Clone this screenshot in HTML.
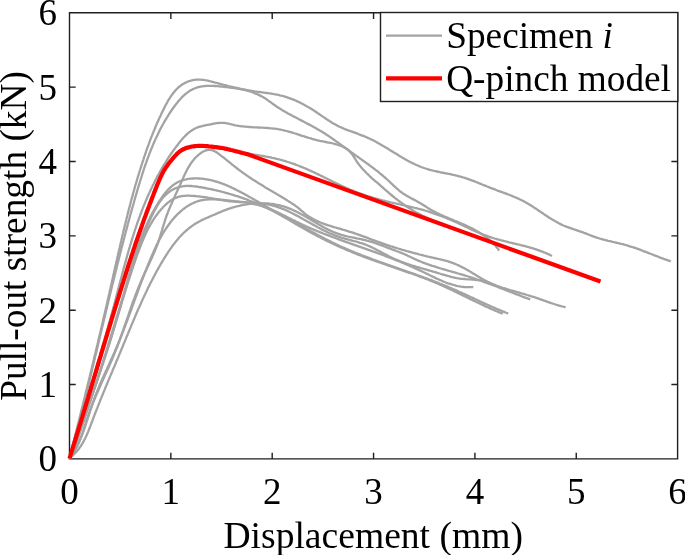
<!DOCTYPE html>
<html><head><meta charset="utf-8"><style>
html,body{margin:0;padding:0;background:#fff;}
body{width:685px;height:555px;overflow:hidden;font-family:"Liberation Serif",serif;}
svg{display:block;will-change:transform;}
</style></head><body>
<svg width="685" height="555" viewBox="0 0 685 555">
<rect width="685" height="555" fill="#fff"/>
<g fill="none" stroke="#1f1f1f" stroke-width="1.4">
<path d="M69.5 458.9H677.6V12.8H69.5Z"/>
<path d="M170.85 458.9V452.7M170.85 12.8V19M69.5 384.55H75.7M677.6 384.55H671.4M272.2 458.9V452.7M272.2 12.8V19M69.5 310.2H75.7M677.6 310.2H671.4M373.55 458.9V452.7M373.55 12.8V19M69.5 235.85H75.7M677.6 235.85H671.4M474.9 458.9V452.7M474.9 12.8V19M69.5 161.5H75.7M677.6 161.5H671.4M576.25 458.9V452.7M576.25 12.8V19M69.5 87.15H75.7M677.6 87.15H671.4"/>
</g>
<g fill="none" stroke="#a3a3a3" stroke-width="2.3" stroke-linejoin="round" stroke-linecap="butt"><path d="M69.4 458.5 L69.8 457.0 L70.1 455.6 L70.5 454.1 L70.9 452.7 L71.2 451.2 L71.6 449.7 L72.0 448.3 L72.3 446.8 L72.7 445.4 L73.1 443.9 L73.4 442.4 L73.8 441.0 L74.2 439.5 L74.5 438.1 L74.9 436.6 L75.3 435.1 L75.6 433.7 L76.0 432.2 L76.4 430.8 L76.7 429.3 L77.1 427.8 L77.5 426.4 L77.8 424.9 L78.2 423.5 L78.6 422.0 L78.9 420.5 L79.3 419.1 L79.6 417.6 L80.0 416.2 L80.4 414.7 L80.7 413.3 L81.1 411.8 L81.4 410.3 L81.8 408.9 L82.2 407.4 L82.5 406.0 L82.9 404.5 L83.2 403.0 L83.6 401.6 L84.0 400.1 L84.3 398.7 L84.7 397.2 L85.0 395.8 L85.4 394.3 L85.7 392.8 L86.1 391.4 L86.5 389.9 L86.8 388.5 L87.2 387.0 L87.5 385.5 L87.9 384.1 L88.2 382.6 L88.6 381.2 L89.0 379.7 L89.3 378.3 L89.7 376.8 L90.0 375.3 L90.4 373.9 L90.7 372.4 L91.1 371.0 L91.4 369.5 L91.8 368.0 L92.1 366.6 L92.5 365.1 L92.8 363.7 L93.2 362.2 L93.5 360.7 L93.9 359.3 L94.2 357.8 L94.6 356.4 L94.9 354.9 L95.3 353.5 L95.6 352.0 L96.0 350.5 L96.3 349.1 L96.7 347.6 L97.0 346.1 L97.4 344.7 L97.7 343.2 L98.1 341.8 L98.4 340.3 L98.7 338.8 L99.1 337.4 L99.4 335.9 L99.8 334.5 L100.1 333.0 L100.5 331.5 L100.8 330.1 L101.1 328.6 L101.5 327.2 L101.8 325.7 L102.2 324.2 L102.5 322.8 L102.9 321.3 L103.2 319.8 L103.5 318.4 L103.9 316.9 L104.2 315.4 L104.6 314.0 L104.9 312.5 L105.2 311.1 L105.6 309.6 L105.9 308.1 L106.2 306.7 L106.6 305.2 L106.9 303.7 L107.3 302.3 L107.6 300.8 L107.9 299.3 L108.3 297.9 L108.6 296.4 L108.9 294.9 L109.3 293.5 L109.6 292.0 L109.9 290.5 L110.3 289.1 L110.6 287.6 L110.9 286.1 L111.2 284.7 L111.6 283.2 L111.9 281.7 L112.2 280.3 L112.6 278.8 L112.9 277.3 L113.2 275.9 L113.6 274.4 L113.9 272.9 L114.2 271.4 L114.5 270.0 L114.9 268.5 L115.2 267.0 L115.5 265.6 L115.9 264.1 L116.2 262.6 L116.5 261.2 L116.9 259.7 L117.2 258.2 L117.5 256.8 L117.9 255.3 L118.2 253.8 L118.5 252.4 L118.9 250.9 L119.2 249.4 L119.6 248.0 L119.9 246.5 L120.2 245.0 L120.6 243.6 L120.9 242.1 L121.3 240.6 L121.6 239.2 L121.9 237.7 L122.3 236.2 L122.6 234.8 L123.0 233.3 L123.3 231.8 L123.7 230.4 L124.0 228.9 L124.4 227.4 L124.7 226.0 L125.1 224.5 L125.5 223.1 L125.8 221.6 L126.2 220.1 L126.5 218.7 L126.9 217.2 L127.3 215.8 L127.6 214.3 L128.0 212.9 L128.4 211.4 L128.7 209.9 L129.1 208.5 L129.5 207.0 L129.9 205.6 L130.3 204.1 L130.6 202.7 L131.0 201.2 L131.4 199.8 L131.8 198.3 L132.2 196.9 L132.6 195.4 L133.0 194.0 L133.4 192.5 L133.8 191.1 L134.2 189.7 L134.6 188.2 L135.0 186.8 L135.4 185.3 L135.8 183.9 L136.3 182.4 L136.7 181.0 L137.1 179.6 L137.5 178.1 L138.0 176.7 L138.4 175.3 L138.8 173.8 L139.3 172.4 L139.7 171.0 L140.2 169.5 L140.6 168.1 L141.1 166.7 L141.5 165.3 L142.0 163.8 L142.4 162.4 L142.9 161.0 L143.4 159.6 L143.8 158.2 L144.3 156.7 L144.8 155.3 L145.3 153.9 L145.8 152.5 L146.2 151.1 L146.7 149.7 L147.2 148.3 L147.7 146.9 L148.3 145.5 L148.8 144.0 L149.3 142.6 L149.8 141.2 L150.3 139.8 L150.9 138.4 L151.4 137.0 L152.0 135.6 L152.5 134.2 L153.1 132.9 L153.6 131.5 L154.2 130.1 L154.8 128.7 L155.4 127.3 L155.9 125.9 L156.5 124.5 L157.1 123.1 L157.7 121.7 L158.4 120.4 L159.0 119.0 L159.6 117.6 L160.3 116.2 L160.9 114.9 L161.5 113.5 L162.2 112.1 L162.9 110.7 L163.6 109.4 L164.2 108.0 L164.9 106.6 L165.6 105.3 L166.4 103.9 L167.1 102.6 L167.8 101.2 L168.6 99.9 L169.4 98.6 L170.2 97.4 L171.0 96.1 L171.9 94.9 L172.8 93.7 L173.7 92.5 L174.6 91.4 L175.6 90.3 L176.6 89.2 L177.6 88.2 L178.7 87.2 L179.8 86.3 L181.0 85.4 L182.2 84.5 L183.5 83.8 L184.8 83.0 L186.1 82.4 L187.4 81.8 L188.8 81.2 L190.3 80.8 L191.7 80.4 L193.1 80.1 L194.6 79.8 L196.1 79.7 L197.6 79.6 L199.0 79.6 L200.5 79.7 L202.0 79.8 L203.5 79.9 L205.0 80.2 L206.4 80.4 L207.9 80.7 L209.4 81.1 L210.8 81.4 L212.3 81.8 L213.7 82.2 L215.2 82.6 L216.7 82.9 L218.1 83.3 L219.6 83.7 L221.0 84.1 L222.5 84.5 L223.9 84.9 L225.4 85.2 L226.8 85.6 L228.3 86.0 L229.7 86.3 L231.2 86.7 L232.7 87.0 L234.1 87.4 L235.6 87.7 L237.1 88.0 L238.5 88.3 L240.0 88.7 L241.5 89.0 L242.9 89.3 L244.4 89.5 L245.9 89.8 L247.3 90.1 L248.8 90.4 L250.3 90.6 L251.8 90.9 L253.3 91.1 L254.7 91.4 L256.2 91.6 L257.7 91.8 L259.2 92.0 L260.7 92.2 L262.2 92.4 L263.7 92.6 L265.2 92.8 L266.6 93.0 L268.1 93.2 L269.6 93.4 L271.1 93.6 L272.6 93.8 L274.0 94.1 L275.5 94.3 L277.0 94.6 L278.4 94.9 L279.9 95.3 L281.3 95.6 L282.8 96.0 L284.2 96.4 L285.7 96.8 L287.1 97.3 L288.5 97.8 L289.9 98.3 L291.3 98.8 L292.7 99.3 L294.1 99.9 L295.5 100.5 L296.8 101.1 L298.2 101.8 L299.6 102.4 L300.9 103.1 L302.3 103.8 L303.6 104.5 L304.9 105.2 L306.2 105.9 L307.6 106.7 L308.9 107.4 L310.2 108.2 L311.5 109.0 L312.7 109.8 L314.0 110.6 L315.3 111.5 L316.5 112.3 L317.8 113.2 L319.1 114.0 L320.3 114.9 L321.6 115.7 L322.8 116.6 L324.0 117.4 L325.3 118.3 L326.5 119.1 L327.8 120.0 L329.1 120.8 L330.3 121.6 L331.6 122.4 L332.9 123.2 L334.2 123.9 L335.5 124.6 L336.8 125.4 L338.1 126.0 L339.4 126.7 L340.8 127.3 L342.1 127.9 L343.5 128.5 L344.9 129.1 L346.3 129.6 L347.6 130.2 L349.0 130.7 L350.5 131.2 L351.9 131.7 L353.3 132.2 L354.7 132.7 L356.1 133.2 L357.5 133.7 L358.9 134.3 L360.3 134.8 L361.7 135.3 L363.1 135.8 L364.5 136.4 L365.9 137.0 L367.3 137.6 L368.6 138.2 L370.0 138.8 L371.3 139.5 L372.7 140.1 L374.0 140.8 L375.4 141.5 L376.7 142.2 L378.0 143.0 L379.3 143.7 L380.6 144.4 L381.9 145.2 L383.2 146.0 L384.5 146.7 L385.8 147.5 L387.1 148.3 L388.4 149.1 L389.7 149.9 L391.0 150.7 L392.3 151.5 L393.5 152.3 L394.8 153.1 L396.1 153.8 L397.4 154.6 L398.7 155.4 L400.0 156.2 L401.3 157.0 L402.6 157.7 L403.9 158.5 L405.2 159.2 L406.5 160.0 L407.8 160.7 L409.1 161.4 L410.4 162.1 L411.8 162.8 L413.1 163.4 L414.4 164.1 L415.8 164.7 L417.1 165.3 L418.5 165.9 L419.9 166.5 L421.2 167.0 L422.6 167.5 L424.0 168.0 L425.4 168.5 L426.9 168.9 L428.3 169.4 L429.7 169.8 L431.2 170.2 L432.6 170.5 L434.1 170.9 L435.5 171.2 L437.0 171.5 L438.5 171.8 L439.9 172.2 L441.4 172.5 L442.9 172.8 L444.4 173.0 L445.9 173.3 L447.3 173.6 L448.8 173.9 L450.3 174.2 L451.8 174.5 L453.2 174.9 L454.7 175.2 L456.2 175.5 L457.6 175.9 L459.1 176.3 L460.5 176.7 L462.0 177.1 L463.4 177.5 L464.8 177.9 L466.2 178.4 L467.6 178.9 L469.0 179.4 L470.4 179.9 L471.8 180.4 L473.2 180.9 L474.6 181.4 L476.0 182.0 L477.4 182.5 L478.8 183.1 L480.1 183.6 L481.5 184.2 L482.9 184.8 L484.3 185.3 L485.7 185.9 L487.1 186.5 L488.5 187.0 L489.9 187.6 L491.3 188.1 L492.7 188.7 L494.1 189.2 L495.5 189.7 L496.9 190.3 L498.3 190.8 L499.7 191.3 L501.2 191.8 L502.6 192.4 L504.0 192.9 L505.4 193.4 L506.8 193.9 L508.2 194.5 L509.7 195.0 L511.1 195.5 L512.4 196.1 L513.8 196.7 L515.2 197.3 L516.6 197.9 L518.0 198.5 L519.3 199.1 L520.6 199.8 L522.0 200.4 L523.3 201.1 L524.6 201.8 L525.9 202.5 L527.2 203.3 L528.5 204.0 L529.8 204.8 L531.0 205.6 L532.3 206.3 L533.5 207.2 L534.8 208.0 L536.1 208.8 L537.3 209.6 L538.5 210.5 L539.8 211.3 L541.0 212.1 L542.3 213.0 L543.5 213.8 L544.7 214.7 L546.0 215.5 L547.2 216.3 L548.5 217.2 L549.8 218.0 L551.0 218.8 L552.3 219.6 L553.6 220.3 L554.9 221.1 L556.2 221.8 L557.5 222.5 L558.8 223.2 L560.1 223.9 L561.5 224.6 L562.8 225.2 L564.2 225.8 L565.6 226.3 L567.0 226.9 L568.4 227.4 L569.8 227.9 L571.2 228.4 L572.7 228.9 L574.1 229.4 L575.5 229.8 L577.0 230.3 L578.4 230.8 L579.8 231.3 L581.3 231.8 L582.7 232.3 L584.1 232.9 L585.5 233.4 L586.9 233.9 L588.3 234.5 L589.7 235.0 L591.1 235.6 L592.5 236.1 L593.9 236.6 L595.3 237.1 L596.7 237.6 L598.1 238.0 L599.5 238.5 L601.0 238.9 L602.4 239.3 L603.8 239.7 L605.3 240.0 L606.7 240.4 L608.2 240.8 L609.7 241.1 L611.1 241.4 L612.6 241.8 L614.0 242.1 L615.5 242.5 L617.0 242.8 L618.4 243.2 L619.9 243.5 L621.3 243.9 L622.8 244.2 L624.2 244.6 L625.7 245.0 L627.1 245.4 L628.5 245.9 L630.0 246.3 L631.4 246.8 L632.8 247.2 L634.2 247.7 L635.7 248.2 L637.1 248.7 L638.5 249.2 L639.9 249.7 L641.3 250.2 L642.7 250.8 L644.1 251.3 L645.5 251.8 L646.9 252.4 L648.3 252.9 L649.7 253.5 L651.1 254.0 L652.5 254.5 L653.9 255.1 L655.3 255.6 L656.7 256.2 L658.1 256.7 L659.5 257.3 L660.9 257.8 L662.3 258.3 L663.7 258.9 L665.1 259.4 L666.6 259.9 L668.0 260.4 L669.4 260.9 L670.8 261.4"/><path d="M69.4 458.5 L69.8 457.1 L70.2 455.6 L70.6 454.1 L71.0 452.7 L71.4 451.2 L71.8 449.8 L72.2 448.3 L72.6 446.9 L73.0 445.4 L73.4 444.0 L73.7 442.5 L74.1 441.0 L74.5 439.6 L74.9 438.1 L75.3 436.7 L75.7 435.2 L76.1 433.8 L76.5 432.3 L76.8 430.8 L77.2 429.4 L77.6 427.9 L78.0 426.5 L78.4 425.0 L78.7 423.5 L79.1 422.1 L79.5 420.6 L79.9 419.2 L80.2 417.7 L80.6 416.2 L81.0 414.8 L81.3 413.3 L81.7 411.9 L82.1 410.4 L82.4 408.9 L82.8 407.5 L83.2 406.0 L83.5 404.6 L83.9 403.1 L84.3 401.6 L84.6 400.2 L85.0 398.7 L85.4 397.3 L85.7 395.8 L86.1 394.3 L86.4 392.9 L86.8 391.4 L87.2 390.0 L87.5 388.5 L87.9 387.0 L88.2 385.6 L88.6 384.1 L88.9 382.7 L89.3 381.2 L89.7 379.7 L90.0 378.3 L90.4 376.8 L90.7 375.3 L91.1 373.9 L91.4 372.4 L91.8 371.0 L92.1 369.5 L92.5 368.0 L92.8 366.6 L93.2 365.1 L93.5 363.7 L93.9 362.2 L94.2 360.7 L94.6 359.3 L94.9 357.8 L95.3 356.3 L95.6 354.9 L96.0 353.4 L96.3 352.0 L96.7 350.5 L97.0 349.0 L97.4 347.6 L97.7 346.1 L98.1 344.6 L98.4 343.2 L98.8 341.7 L99.1 340.3 L99.5 338.8 L99.8 337.3 L100.1 335.9 L100.5 334.4 L100.8 333.0 L101.2 331.5 L101.5 330.0 L101.9 328.6 L102.2 327.1 L102.6 325.6 L102.9 324.2 L103.3 322.7 L103.6 321.3 L104.0 319.8 L104.3 318.3 L104.7 316.9 L105.0 315.4 L105.4 313.9 L105.7 312.5 L106.1 311.0 L106.4 309.6 L106.8 308.1 L107.1 306.6 L107.5 305.2 L107.8 303.7 L108.2 302.3 L108.5 300.8 L108.9 299.3 L109.2 297.9 L109.6 296.4 L109.9 295.0 L110.3 293.5 L110.6 292.0 L111.0 290.6 L111.3 289.1 L111.7 287.7 L112.0 286.2 L112.4 284.7 L112.8 283.3 L113.1 281.8 L113.5 280.4 L113.8 278.9 L114.2 277.4 L114.6 276.0 L114.9 274.5 L115.3 273.1 L115.6 271.6 L116.0 270.1 L116.4 268.7 L116.7 267.2 L117.1 265.8 L117.5 264.3 L117.8 262.8 L118.2 261.4 L118.6 259.9 L118.9 258.5 L119.3 257.0 L119.7 255.6 L120.0 254.1 L120.4 252.6 L120.8 251.2 L121.1 249.7 L121.5 248.3 L121.9 246.8 L122.3 245.4 L122.6 243.9 L123.0 242.4 L123.4 241.0 L123.8 239.5 L124.2 238.1 L124.5 236.6 L124.9 235.2 L125.3 233.7 L125.7 232.2 L126.1 230.8 L126.5 229.3 L126.9 227.9 L127.3 226.4 L127.6 225.0 L128.0 223.5 L128.4 222.1 L128.8 220.6 L129.2 219.2 L129.6 217.7 L130.0 216.3 L130.4 214.8 L130.8 213.3 L131.2 211.9 L131.6 210.4 L132.0 209.0 L132.4 207.5 L132.8 206.1 L133.3 204.6 L133.7 203.2 L134.1 201.7 L134.5 200.3 L134.9 198.8 L135.3 197.4 L135.7 195.9 L136.2 194.5 L136.6 193.0 L137.0 191.6 L137.4 190.1 L137.8 188.7 L138.3 187.2 L138.7 185.8 L139.1 184.3 L139.6 182.9 L140.0 181.5 L140.5 180.0 L140.9 178.6 L141.4 177.1 L141.8 175.7 L142.3 174.2 L142.7 172.8 L143.2 171.4 L143.7 169.9 L144.1 168.5 L144.6 167.1 L145.1 165.7 L145.6 164.2 L146.1 162.8 L146.6 161.4 L147.1 160.0 L147.6 158.6 L148.1 157.2 L148.7 155.7 L149.2 154.3 L149.7 152.9 L150.3 151.5 L150.8 150.1 L151.4 148.7 L152.0 147.4 L152.5 146.0 L153.1 144.6 L153.7 143.2 L154.3 141.8 L154.9 140.5 L155.5 139.1 L156.2 137.7 L156.8 136.4 L157.5 135.0 L158.1 133.7 L158.8 132.3 L159.4 131.0 L160.1 129.6 L160.8 128.3 L161.5 127.0 L162.2 125.7 L163.0 124.3 L163.7 123.0 L164.4 121.7 L165.2 120.4 L166.0 119.1 L166.7 117.8 L167.5 116.6 L168.3 115.3 L169.1 114.0 L170.0 112.7 L170.8 111.5 L171.7 110.2 L172.5 109.0 L173.4 107.7 L174.3 106.5 L175.2 105.3 L176.1 104.1 L177.1 102.9 L178.0 101.7 L179.0 100.5 L180.0 99.4 L181.0 98.3 L182.0 97.2 L183.1 96.2 L184.2 95.2 L185.3 94.2 L186.4 93.3 L187.6 92.4 L188.7 91.6 L190.0 90.8 L191.2 90.1 L192.4 89.4 L193.7 88.8 L195.1 88.2 L196.4 87.7 L197.8 87.3 L199.2 86.9 L200.7 86.6 L202.2 86.3 L203.7 86.1 L205.2 86.0 L206.7 85.9 L208.3 85.8 L209.9 85.8 L211.5 85.9 L213.1 85.9 L214.6 86.0 L216.2 86.1 L217.8 86.2 L219.4 86.4 L221.0 86.5 L222.6 86.7 L224.1 86.9 L225.7 87.1 L227.2 87.2 L228.7 87.4 L230.2 87.6 L231.7 87.8 L233.1 87.9 L234.6 88.1 L236.0 88.3 L237.4 88.6 L238.9 88.8 L240.3 89.1 L241.7 89.3 L243.1 89.6 L244.5 90.0 L245.9 90.3 L247.4 90.7 L248.8 91.1 L250.2 91.5 L251.7 92.0 L253.1 92.5 L254.5 93.1 L255.9 93.7 L257.3 94.3 L258.7 94.9 L260.1 95.6 L261.5 96.3 L262.8 97.0 L264.1 97.8 L265.4 98.6 L266.7 99.4 L267.9 100.3 L269.1 101.2 L270.3 102.0 L271.5 102.9 L272.7 103.8 L274.0 104.7 L275.2 105.5 L276.4 106.4 L277.7 107.2 L278.9 108.0 L280.2 108.8 L281.4 109.6 L282.7 110.4 L284.0 111.1 L285.3 111.9 L286.6 112.6 L287.9 113.4 L289.2 114.1 L290.6 114.8 L291.9 115.5 L293.2 116.2 L294.6 116.9 L295.9 117.6 L297.2 118.3 L298.6 119.0 L299.9 119.7 L301.2 120.4 L302.6 121.1 L303.9 121.8 L305.3 122.5 L306.6 123.2 L307.9 123.9 L309.3 124.6 L310.6 125.3 L311.9 126.0 L313.3 126.8 L314.6 127.5 L315.9 128.2 L317.2 129.0 L318.5 129.7 L319.8 130.5 L321.1 131.2 L322.4 132.0 L323.6 132.8 L324.9 133.6 L326.2 134.4 L327.4 135.3 L328.7 136.1 L329.9 136.9 L331.1 137.8 L332.4 138.6 L333.6 139.5 L334.8 140.3 L336.0 141.2 L337.3 142.1 L338.5 142.9 L339.7 143.8 L340.9 144.7 L342.1 145.6 L343.3 146.5 L344.5 147.3 L345.8 148.2 L347.0 149.1 L348.2 150.0 L349.4 150.9 L350.6 151.8 L351.8 152.6 L353.1 153.5 L354.3 154.4 L355.5 155.3 L356.7 156.1 L358.0 157.0 L359.2 157.9 L360.4 158.8 L361.6 159.6 L362.9 160.5 L364.1 161.4 L365.3 162.2 L366.5 163.1 L367.8 164.0 L369.0 164.9 L370.2 165.8 L371.4 166.7 L372.6 167.6 L373.8 168.5 L375.0 169.4 L376.2 170.3 L377.4 171.2 L378.6 172.2 L379.7 173.1 L380.9 174.1 L382.0 175.0 L383.2 176.0 L384.3 177.0 L385.5 178.0 L386.6 179.0 L387.7 180.0 L388.8 181.0 L389.9 182.0 L391.0 183.1 L392.1 184.1 L393.1 185.2 L394.2 186.2 L395.3 187.2 L396.4 188.2 L397.6 189.2 L398.7 190.2 L399.8 191.1 L401.0 192.0 L402.2 192.9 L403.4 193.7 L404.7 194.5 L405.9 195.3 L407.2 196.1 L408.5 196.8 L409.8 197.5 L411.1 198.2 L412.4 198.9 L413.8 199.6 L415.1 200.3 L416.4 201.0 L417.7 201.7 L419.0 202.4 L420.3 203.2 L421.6 203.9 L422.9 204.7 L424.1 205.5 L425.3 206.3 L426.6 207.1 L427.8 207.9 L429.1 208.7 L430.4 209.5 L431.7 210.2 L433.0 210.9 L434.3 211.6 L435.6 212.3 L436.9 213.0 L438.3 213.6 L439.6 214.3 L441.0 214.9 L442.4 215.5 L443.7 216.1 L445.1 216.7 L446.5 217.3 L447.9 217.9 L449.3 218.5 L450.7 219.0 L452.1 219.6 L453.5 220.2 L454.9 220.8 L456.3 221.3 L457.7 221.9 L459.1 222.5 L460.5 223.1 L461.8 223.7 L463.2 224.3 L464.6 224.9 L466.0 225.5 L467.4 226.2 L468.7 226.8 L470.1 227.5 L471.4 228.1 L472.8 228.8 L474.1 229.5 L475.4 230.2 L476.7 230.9 L478.0 231.7 L479.3 232.5 L480.5 233.2 L481.8 234.0 L483.0 234.9 L484.2 235.7 L485.4 236.6 L486.6 237.5 L487.8 238.4 L488.9 239.4 L490.1 240.4 L491.2 241.4 L492.3 242.4 L493.3 243.5 L494.4 244.6 L495.4 245.7 L496.4 246.9 L497.3 248.1 L498.3 249.3 L499.2 250.6"/><path d="M69.5 458.5 L69.9 457.0 L70.3 455.6 L70.7 454.1 L71.1 452.7 L71.5 451.3 L71.9 449.8 L72.3 448.4 L72.7 446.9 L73.1 445.5 L73.6 444.0 L74.0 442.6 L74.4 441.1 L74.8 439.7 L75.2 438.2 L75.6 436.8 L76.1 435.4 L76.5 433.9 L76.9 432.5 L77.3 431.0 L77.7 429.6 L78.2 428.1 L78.6 426.7 L79.0 425.2 L79.4 423.8 L79.9 422.3 L80.3 420.9 L80.7 419.5 L81.2 418.0 L81.6 416.6 L82.0 415.1 L82.4 413.7 L82.9 412.2 L83.3 410.8 L83.7 409.4 L84.2 407.9 L84.6 406.5 L85.0 405.0 L85.5 403.6 L85.9 402.1 L86.3 400.7 L86.8 399.2 L87.2 397.8 L87.6 396.4 L88.1 394.9 L88.5 393.5 L88.9 392.0 L89.4 390.6 L89.8 389.1 L90.2 387.7 L90.7 386.3 L91.1 384.8 L91.6 383.4 L92.0 381.9 L92.4 380.5 L92.9 379.0 L93.3 377.6 L93.7 376.1 L94.2 374.7 L94.6 373.3 L95.0 371.8 L95.5 370.4 L95.9 368.9 L96.3 367.5 L96.7 366.0 L97.2 364.6 L97.6 363.1 L98.0 361.7 L98.5 360.2 L98.9 358.8 L99.3 357.4 L99.8 355.9 L100.2 354.5 L100.6 353.0 L101.0 351.6 L101.5 350.1 L101.9 348.7 L102.3 347.2 L102.7 345.8 L103.1 344.3 L103.6 342.9 L104.0 341.4 L104.4 340.0 L104.8 338.5 L105.2 337.1 L105.6 335.6 L106.1 334.2 L106.5 332.7 L106.9 331.3 L107.3 329.9 L107.7 328.4 L108.1 327.0 L108.5 325.5 L108.9 324.1 L109.3 322.6 L109.7 321.1 L110.1 319.7 L110.5 318.2 L110.9 316.8 L111.3 315.3 L111.7 313.9 L112.1 312.4 L112.5 311.0 L112.9 309.5 L113.3 308.1 L113.7 306.6 L114.1 305.2 L114.4 303.7 L114.8 302.3 L115.2 300.8 L115.6 299.4 L116.0 297.9 L116.4 296.4 L116.7 295.0 L117.1 293.5 L117.5 292.1 L117.9 290.6 L118.2 289.2 L118.6 287.7 L119.0 286.3 L119.4 284.8 L119.8 283.4 L120.1 281.9 L120.5 280.5 L120.9 279.0 L121.3 277.5 L121.7 276.1 L122.0 274.6 L122.4 273.2 L122.8 271.7 L123.2 270.3 L123.6 268.8 L124.0 267.4 L124.4 265.9 L124.8 264.5 L125.2 263.0 L125.6 261.6 L126.0 260.1 L126.4 258.7 L126.8 257.2 L127.2 255.8 L127.6 254.3 L128.0 252.9 L128.4 251.5 L128.8 250.0 L129.2 248.6 L129.7 247.1 L130.1 245.7 L130.5 244.3 L131.0 242.8 L131.4 241.4 L131.8 239.9 L132.3 238.5 L132.7 237.1 L133.2 235.6 L133.6 234.2 L134.1 232.8 L134.6 231.3 L135.0 229.9 L135.5 228.5 L136.0 227.0 L136.5 225.6 L137.0 224.2 L137.4 222.8 L137.9 221.3 L138.5 219.9 L139.0 218.5 L139.5 217.1 L140.0 215.7 L140.5 214.3 L141.1 212.8 L141.6 211.4 L142.1 210.0 L142.7 208.6 L143.2 207.2 L143.8 205.8 L144.4 204.4 L145.0 203.0 L145.5 201.6 L146.1 200.2 L146.7 198.8 L147.3 197.4 L147.9 196.0 L148.5 194.6 L149.2 193.3 L149.8 191.9 L150.4 190.5 L151.1 189.1 L151.7 187.8 L152.4 186.4 L153.0 185.0 L153.7 183.7 L154.4 182.3 L155.0 181.0 L155.7 179.6 L156.4 178.3 L157.1 176.9 L157.8 175.6 L158.6 174.3 L159.3 173.0 L160.0 171.6 L160.8 170.3 L161.5 169.0 L162.3 167.7 L163.0 166.4 L163.8 165.1 L164.6 163.8 L165.4 162.6 L166.2 161.3 L167.0 160.0 L167.8 158.7 L168.6 157.5 L169.4 156.2 L170.3 155.0 L171.1 153.7 L172.0 152.5 L172.8 151.3 L173.7 150.1 L174.6 148.9 L175.5 147.6 L176.4 146.4 L177.3 145.3 L178.2 144.1 L179.1 142.9 L180.0 141.7 L181.0 140.6 L181.9 139.4 L182.9 138.3 L183.9 137.2 L184.9 136.2 L186.0 135.1 L187.0 134.1 L188.1 133.1 L189.3 132.2 L190.5 131.3 L191.7 130.5 L192.9 129.7 L194.2 129.0 L195.5 128.3 L196.9 127.7 L198.4 127.2 L199.8 126.7 L201.3 126.3 L202.9 125.9 L204.5 125.5 L206.0 125.2 L207.6 124.9 L209.2 124.6 L210.8 124.3 L212.3 124.0 L213.8 123.7 L215.4 123.4 L216.8 123.2 L218.3 123.0 L219.8 122.9 L221.3 122.8 L222.7 122.8 L224.2 122.9 L225.6 123.1 L227.0 123.4 L228.5 123.7 L229.9 124.0 L231.3 124.4 L232.8 124.7 L234.2 125.1 L235.7 125.4 L237.2 125.6 L238.7 125.9 L240.1 126.1 L241.6 126.3 L243.1 126.4 L244.6 126.6 L246.1 126.7 L247.6 126.9 L249.2 127.0 L250.7 127.1 L252.2 127.2 L253.7 127.3 L255.2 127.3 L256.8 127.4 L258.3 127.5 L259.8 127.6 L261.3 127.6 L262.8 127.7 L264.4 127.8 L265.9 127.9 L267.4 128.0 L268.9 128.1 L270.4 128.3 L271.9 128.4 L273.4 128.6 L274.9 128.7 L276.4 128.9 L277.8 129.2 L279.3 129.4 L280.8 129.7 L282.2 130.0 L283.7 130.3 L285.1 130.7 L286.5 131.0 L288.0 131.4 L289.4 131.8 L290.8 132.2 L292.2 132.6 L293.6 133.0 L295.1 133.5 L296.5 133.9 L297.9 134.4 L299.3 134.8 L300.7 135.3 L302.2 135.8 L303.6 136.2 L305.0 136.7 L306.4 137.1 L307.9 137.6 L309.3 138.0 L310.8 138.4 L312.2 138.9 L313.7 139.3 L315.1 139.7 L316.6 140.1 L318.1 140.4 L319.6 140.8 L321.1 141.1 L322.6 141.4 L324.1 141.7 L325.6 142.0 L327.1 142.3 L328.6 142.6 L330.2 142.9 L331.7 143.2 L333.1 143.5 L334.6 143.9 L336.1 144.3 L337.5 144.7 L338.9 145.2 L340.3 145.7 L341.7 146.2 L343.0 146.8 L344.3 147.5 L345.6 148.2 L346.8 149.0 L348.0 149.9 L349.1 150.9 L350.1 151.9 L351.1 153.0 L352.0 154.1 L352.9 155.4 L353.7 156.6 L354.5 157.9 L355.3 159.2 L356.1 160.5 L356.9 161.8 L357.8 163.0 L358.7 164.2 L359.6 165.4 L360.6 166.6 L361.5 167.7 L362.5 168.8 L363.5 169.9 L364.6 171.0 L365.6 172.1 L366.7 173.2 L367.7 174.2 L368.8 175.2 L369.9 176.3 L371.0 177.3 L372.1 178.3 L373.2 179.3 L374.4 180.3 L375.5 181.3 L376.6 182.2 L377.8 183.2 L378.9 184.2 L380.0 185.2 L381.1 186.2 L382.3 187.2 L383.4 188.2 L384.5 189.2 L385.7 190.2 L386.8 191.2 L388.0 192.1 L389.1 193.1 L390.3 194.1 L391.4 195.0 L392.6 196.0 L393.7 196.9 L394.9 197.9 L396.1 198.8 L397.3 199.7 L398.4 200.6 L399.6 201.5 L400.8 202.4 L402.1 203.3 L403.3 204.2 L404.5 205.0 L405.7 205.9 L407.0 206.7 L408.2 207.5 L409.5 208.3 L410.8 209.1 L412.1 209.9 L413.3 210.7 L414.6 211.4 L416.0 212.2 L417.3 212.9 L418.6 213.6 L419.9 214.3 L421.3 215.0 L422.6 215.7 L424.0 216.3 L425.3 217.0 L426.7 217.6 L428.1 218.2 L429.5 218.8 L430.8 219.4 L432.2 220.0 L433.6 220.6 L435.0 221.1 L436.5 221.6 L437.9 222.1 L439.3 222.6 L440.7 223.1 L442.1 223.6 L443.6 224.1 L445.0 224.5"/><path d="M69.5 458.5 L69.9 457.0 L70.4 455.6 L70.8 454.2 L71.3 452.8 L71.8 451.3 L72.2 449.9 L72.7 448.5 L73.1 447.0 L73.5 445.6 L74.0 444.2 L74.4 442.7 L74.9 441.3 L75.3 439.9 L75.8 438.4 L76.2 437.0 L76.7 435.6 L77.1 434.1 L77.6 432.7 L78.0 431.3 L78.4 429.8 L78.9 428.4 L79.3 426.9 L79.8 425.5 L80.2 424.1 L80.6 422.6 L81.1 421.2 L81.5 419.8 L81.9 418.3 L82.4 416.9 L82.8 415.4 L83.3 414.0 L83.7 412.6 L84.1 411.1 L84.6 409.7 L85.0 408.2 L85.4 406.8 L85.9 405.3 L86.3 403.9 L86.7 402.5 L87.2 401.0 L87.6 399.6 L88.0 398.1 L88.5 396.7 L88.9 395.3 L89.3 393.8 L89.8 392.4 L90.2 390.9 L90.6 389.5 L91.1 388.0 L91.5 386.6 L91.9 385.1 L92.3 383.7 L92.8 382.3 L93.2 380.8 L93.6 379.4 L94.1 377.9 L94.5 376.5 L94.9 375.0 L95.4 373.6 L95.8 372.1 L96.2 370.7 L96.7 369.2 L97.1 367.8 L97.5 366.4 L97.9 364.9 L98.4 363.5 L98.8 362.0 L99.2 360.6 L99.7 359.1 L100.1 357.7 L100.5 356.2 L101.0 354.8 L101.4 353.3 L101.8 351.9 L102.2 350.5 L102.7 349.0 L103.1 347.6 L103.5 346.1 L104.0 344.7 L104.4 343.2 L104.8 341.8 L105.3 340.3 L105.7 338.9 L106.1 337.5 L106.6 336.0 L107.0 334.6 L107.4 333.1 L107.9 331.7 L108.3 330.2 L108.7 328.8 L109.2 327.3 L109.6 325.9 L110.1 324.5 L110.5 323.0 L110.9 321.6 L111.4 320.1 L111.8 318.7 L112.2 317.2 L112.7 315.8 L113.1 314.4 L113.6 312.9 L114.0 311.5 L114.4 310.0 L114.9 308.6 L115.3 307.2 L115.8 305.7 L116.2 304.3 L116.7 302.8 L117.1 301.4 L117.6 300.0 L118.0 298.5 L118.4 297.1 L118.9 295.6 L119.3 294.2 L119.8 292.8 L120.2 291.3 L120.7 289.9 L121.1 288.5 L121.6 287.0 L122.0 285.6 L122.5 284.2 L123.0 282.7 L123.4 281.3 L123.9 279.9 L124.3 278.4 L124.8 277.0 L125.2 275.6 L125.7 274.1 L126.2 272.7 L126.6 271.3 L127.1 269.8 L127.5 268.4 L128.0 267.0 L128.5 265.5 L128.9 264.1 L129.4 262.7 L129.9 261.3 L130.3 259.8 L130.8 258.4 L131.3 257.0 L131.8 255.6 L132.2 254.1 L132.7 252.7 L133.2 251.3 L133.6 249.9 L134.1 248.4 L134.6 247.0 L135.1 245.6 L135.6 244.2 L136.0 242.8 L136.5 241.3 L137.0 239.9 L137.5 238.5 L138.0 237.1 L138.5 235.7 L139.0 234.2 L139.5 232.8 L139.9 231.4 L140.4 230.0 L140.9 228.6 L141.4 227.2 L141.9 225.8 L142.4 224.4 L142.9 222.9 L143.4 221.5 L143.9 220.1 L144.4 218.7 L144.9 217.3 L145.4 215.9 L145.9 214.5 L146.5 213.1 L147.0 211.7 L147.5 210.3 L148.0 208.9 L148.5 207.4 L149.0 206.0 L149.6 204.6 L150.1 203.2 L150.6 201.8 L151.1 200.4 L151.7 199.0 L152.2 197.5 L152.7 196.1 L153.3 194.7 L153.8 193.3 L154.4 191.8 L154.9 190.4 L155.5 189.0 L156.0 187.6 L156.6 186.1 L157.2 184.7 L157.7 183.3 L158.3 181.8 L158.9 180.4 L159.6 179.0 L160.2 177.6 L160.8 176.2 L161.5 174.8 L162.2 173.5 L162.9 172.1 L163.6 170.8 L164.4 169.5 L165.1 168.2 L165.9 166.9 L166.8 165.6 L167.6 164.4 L168.5 163.2 L169.5 162.0 L170.4 160.8 L171.4 159.7 L172.4 158.6 L173.5 157.6 L174.5 156.5 L175.6 155.5 L176.8 154.6 L177.9 153.7 L179.1 152.8 L180.3 152.0 L181.5 151.2 L182.8 150.5 L184.1 149.8 L185.4 149.2 L186.7 148.6 L188.0 148.1 L189.4 147.6 L190.8 147.2 L192.2 146.8 L193.6 146.5 L195.1 146.3 L196.5 146.1 L198.0 145.9 L199.5 145.8 L201.0 145.8 L202.5 145.8 L204.0 145.8 L205.5 145.9 L207.0 146.0 L208.5 146.1 L210.0 146.3 L211.6 146.5 L213.1 146.7 L214.6 146.9 L216.1 147.2 L217.6 147.4 L219.1 147.7 L220.6 148.0 L222.1 148.3 L223.6 148.7 L225.0 149.0 L226.5 149.3 L228.0 149.7 L229.5 150.0 L231.0 150.4 L232.5 150.7 L233.9 151.0 L235.4 151.4 L236.9 151.7 L238.4 152.0 L239.9 152.3 L241.3 152.6 L242.8 152.8 L244.3 153.1 L245.8 153.3 L247.2 153.6 L248.7 153.8 L250.2 154.0 L251.7 154.2 L253.1 154.5 L254.6 154.7 L256.1 154.9 L257.5 155.1 L259.0 155.3 L260.5 155.6 L261.9 155.8 L263.4 156.0 L264.9 156.3 L266.3 156.6 L267.8 156.8 L269.2 157.1 L270.7 157.4 L272.2 157.8 L273.6 158.1 L275.1 158.4 L276.5 158.8 L278.0 159.1 L279.4 159.5 L280.8 159.9 L282.3 160.3 L283.7 160.7 L285.2 161.1 L286.6 161.6 L288.0 162.0 L289.5 162.5 L290.9 163.0 L292.3 163.4 L293.7 163.9 L295.1 164.4 L296.5 165.0 L297.9 165.5 L299.3 166.0 L300.7 166.6 L302.1 167.1 L303.5 167.7 L304.9 168.3 L306.3 168.9 L307.7 169.5 L309.0 170.1 L310.4 170.7 L311.8 171.4 L313.2 172.0 L314.5 172.6 L315.9 173.3 L317.2 173.9 L318.6 174.6 L320.0 175.3 L321.3 175.9 L322.7 176.6 L324.0 177.3 L325.4 177.9 L326.7 178.6 L328.1 179.3 L329.5 179.9 L330.8 180.6 L332.2 181.3 L333.5 182.0 L334.9 182.6 L336.2 183.3 L337.6 183.9 L339.0 184.6 L340.3 185.2 L341.7 185.9 L343.1 186.5 L344.4 187.1 L345.8 187.8 L347.2 188.4 L348.6 189.0 L349.9 189.6 L351.3 190.2 L352.7 190.7 L354.1 191.3 L355.5 191.8 L356.9 192.4 L358.3 192.9 L359.7 193.4 L361.1 193.9 L362.5 194.4 L363.9 194.9 L365.4 195.4 L366.8 195.8 L368.2 196.3 L369.7 196.7 L371.1 197.2 L372.5 197.6 L374.0 198.0 L375.4 198.4 L376.9 198.8 L378.3 199.2 L379.8 199.6 L381.2 200.0 L382.7 200.4 L384.1 200.7 L385.6 201.1 L387.0 201.5 L388.5 201.8 L390.0 202.2 L391.4 202.5 L392.9 202.8 L394.4 203.2 L395.8 203.5 L397.3 203.8 L398.8 204.2 L400.2 204.5 L401.7 204.8 L403.2 205.2 L404.6 205.5 L406.1 205.8 L407.6 206.1 L409.0 206.5 L410.5 206.8 L412.0 207.2 L413.4 207.5 L414.9 207.9 L416.3 208.2 L417.8 208.6 L419.2 208.9 L420.7 209.3 L422.1 209.7 L423.6 210.1 L425.0 210.5 L426.5 211.0 L427.9 211.4 L429.3 211.8 L430.8 212.3 L432.2 212.8 L433.6 213.3 L435.0 213.8 L436.4 214.3 L437.9 214.8 L439.3 215.3 L440.7 215.8 L442.1 216.4 L443.5 216.9 L444.9 217.5 L446.3 218.0 L447.6 218.6 L449.0 219.2 L450.4 219.8 L451.8 220.4 L453.2 221.0 L454.6 221.6 L455.9 222.2 L457.3 222.8 L458.7 223.5 L460.0 224.1 L461.4 224.8 L462.8 225.4 L464.1 226.0 L465.5 226.7 L466.8 227.3 L468.2 228.0 L469.6 228.6 L470.9 229.3 L472.3 229.9 L473.6 230.5 L475.0 231.1 L476.4 231.7 L477.8 232.3 L479.1 232.9 L480.5 233.5 L481.9 234.1 L483.3 234.6 L484.7 235.2 L486.1 235.7 L487.5 236.2 L488.9 236.7 L490.3 237.1 L491.7 237.6 L493.2 238.0 L494.6 238.5 L496.0 238.9 L497.5 239.3 L498.9 239.7 L500.4 240.1 L501.8 240.4 L503.3 240.8 L504.7 241.2 L506.2 241.5 L507.6 241.9 L509.1 242.3 L510.5 242.6 L512.0 243.0 L513.5 243.3 L514.9 243.7 L516.4 244.0 L517.8 244.4 L519.3 244.7 L520.8 245.1 L522.2 245.5 L523.7 245.8 L525.1 246.2 L526.6 246.6 L528.0 247.0 L529.5 247.4 L530.9 247.8 L532.4 248.2 L533.8 248.7 L535.2 249.1 L536.7 249.6 L538.1 250.1 L539.5 250.6 L540.9 251.1 L542.3 251.6 L543.7 252.2 L545.1 252.8 L546.5 253.4 L547.9 254.0 L549.3 254.6 L550.6 255.3 L552.0 256.0"/><path d="M69.2 458.4 L70.2 457.2 L71.2 456.0 L72.1 454.8 L73.0 453.5 L73.9 452.3 L74.7 451.0 L75.4 449.7 L76.1 448.4 L76.8 447.0 L77.5 445.7 L78.1 444.3 L78.8 443.0 L79.3 441.6 L79.9 440.2 L80.4 438.8 L81.0 437.4 L81.5 436.0 L82.0 434.6 L82.5 433.1 L82.9 431.7 L83.4 430.3 L83.8 428.8 L84.3 427.4 L84.8 426.0 L85.2 424.5 L85.7 423.1 L86.1 421.7 L86.6 420.2 L87.1 418.8 L87.6 417.4 L88.0 416.0 L88.5 414.5 L89.1 413.1 L89.6 411.7 L90.1 410.3 L90.6 408.9 L91.2 407.5 L91.7 406.1 L92.3 404.7 L92.8 403.3 L93.4 401.9 L94.0 400.5 L94.5 399.1 L95.1 397.8 L95.7 396.4 L96.3 395.0 L96.9 393.6 L97.5 392.2 L98.1 390.9 L98.7 389.5 L99.3 388.1 L99.9 386.7 L100.5 385.4 L101.1 384.0 L101.7 382.6 L102.3 381.3 L102.9 379.9 L103.6 378.5 L104.2 377.1 L104.8 375.8 L105.4 374.4 L106.0 373.0 L106.6 371.7 L107.2 370.3 L107.9 368.9 L108.5 367.5 L109.1 366.2 L109.7 364.8 L110.3 363.4 L110.9 362.0 L111.5 360.7 L112.1 359.3 L112.6 357.9 L113.2 356.5 L113.8 355.1 L114.4 353.7 L114.9 352.3 L115.5 350.9 L116.1 349.6 L116.6 348.2 L117.2 346.8 L117.7 345.3 L118.2 343.9 L118.8 342.5 L119.3 341.1 L119.8 339.7 L120.3 338.3 L120.8 336.9 L121.3 335.5 L121.8 334.0 L122.3 332.6 L122.8 331.2 L123.3 329.8 L123.8 328.4 L124.3 326.9 L124.8 325.5 L125.3 324.1 L125.8 322.7 L126.3 321.2 L126.8 319.8 L127.3 318.4 L127.8 317.0 L128.3 315.5 L128.7 314.1 L129.2 312.7 L129.7 311.3 L130.2 309.8 L130.7 308.4 L131.2 307.0 L131.7 305.6 L132.2 304.2 L132.7 302.7 L133.2 301.3 L133.7 299.9 L134.3 298.5 L134.8 297.1 L135.3 295.7 L135.8 294.3 L136.4 292.9 L136.9 291.5 L137.4 290.1 L138.0 288.7 L138.6 287.3 L139.1 285.9 L139.7 284.5 L140.3 283.1 L140.8 281.7 L141.4 280.4 L142.0 279.0 L142.6 277.6 L143.2 276.2 L143.9 274.9 L144.5 273.5 L145.1 272.2 L145.8 270.8 L146.4 269.4 L147.0 268.1 L147.7 266.7 L148.3 265.4 L149.0 264.0 L149.6 262.7 L150.2 261.3 L150.9 259.9 L151.5 258.6 L152.1 257.2 L152.7 255.8 L153.3 254.5 L153.9 253.1 L154.5 251.7 L155.1 250.3 L155.7 248.9 L156.2 247.5 L156.8 246.1 L157.3 244.7 L157.8 243.3 L158.3 241.9 L158.8 240.4 L159.3 239.0 L159.8 237.6 L160.2 236.1 L160.7 234.7 L161.1 233.2 L161.5 231.8 L162.0 230.3 L162.4 228.9 L162.8 227.4 L163.3 225.9 L163.7 224.5 L164.2 223.1 L164.6 221.6 L165.1 220.2 L165.5 218.8 L166.0 217.3 L166.5 215.9 L167.0 214.5 L167.6 213.1 L168.1 211.7 L168.7 210.3 L169.2 209.0 L169.8 207.6 L170.4 206.2 L171.0 204.8 L171.6 203.5 L172.2 202.1 L172.8 200.8 L173.4 199.4 L174.0 198.0 L174.6 196.7 L175.2 195.3 L175.9 194.0 L176.5 192.6 L177.1 191.2 L177.8 189.9 L178.4 188.5 L179.0 187.1 L179.6 185.8 L180.3 184.4 L180.9 183.0 L181.5 181.6 L182.1 180.2 L182.8 178.8 L183.4 177.4 L184.0 176.0 L184.7 174.6 L185.3 173.3 L186.0 171.9 L186.7 170.5 L187.4 169.2 L188.1 167.9 L188.9 166.6 L189.7 165.3 L190.5 164.0 L191.3 162.8 L192.2 161.6 L193.1 160.4 L194.1 159.2 L195.1 158.1 L196.1 157.0 L197.2 156.0 L198.4 155.0 L199.5 154.0 L200.8 153.1 L202.0 152.3 L203.3 151.6 L204.6 150.9 L206.0 150.4 L207.3 150.1 L208.7 149.9 L210.1 149.9 L211.4 150.1 L212.8 150.4 L214.1 151.0 L215.5 151.7 L216.8 152.5 L218.1 153.4 L219.4 154.4 L220.6 155.3 L221.9 156.3 L223.1 157.2 L224.3 158.2 L225.5 159.1 L226.7 160.1 L227.9 161.0 L229.0 162.0 L230.2 162.9 L231.4 163.8 L232.5 164.8 L233.7 165.7 L234.8 166.6 L236.0 167.5 L237.2 168.5 L238.4 169.4 L239.5 170.3 L240.7 171.1 L241.9 172.0 L243.1 172.9 L244.4 173.8 L245.6 174.6 L246.8 175.5 L248.1 176.4 L249.3 177.2 L250.6 178.0 L251.8 178.9 L253.1 179.7 L254.4 180.5 L255.6 181.3 L256.9 182.1 L258.2 183.0 L259.5 183.8 L260.8 184.5 L262.1 185.3 L263.4 186.1 L264.6 186.9 L265.9 187.7 L267.2 188.4 L268.5 189.2 L269.8 189.9 L271.1 190.7 L272.4 191.4 L273.7 192.2 L275.0 192.9 L276.2 193.7 L277.5 194.4 L278.8 195.2 L280.0 195.9 L281.3 196.7 L282.5 197.5 L283.8 198.3 L285.0 199.0 L286.2 199.8 L287.5 200.6 L288.7 201.4 L290.0 202.1 L291.2 202.9 L292.5 203.7 L293.7 204.5 L294.9 205.4 L296.1 206.3 L297.3 207.2 L298.5 208.2 L299.7 209.2 L300.8 210.2 L302.0 211.2 L303.2 212.2 L304.3 213.2 L305.5 214.2 L306.8 215.1 L308.0 215.9 L309.2 216.7 L310.5 217.5 L311.8 218.3 L313.1 219.0 L314.4 219.7 L315.7 220.4 L317.1 221.0 L318.4 221.6 L319.8 222.2 L321.2 222.8 L322.6 223.3 L324.0 223.8 L325.4 224.3 L326.8 224.8 L328.2 225.3 L329.6 225.7 L331.1 226.2 L332.5 226.6 L333.9 227.1 L335.4 227.5 L336.8 227.9 L338.3 228.3 L339.7 228.7 L341.2 229.1 L342.6 229.6 L344.1 230.0 L345.5 230.4 L347.0 230.9 L348.4 231.3 L349.8 231.8 L351.3 232.2 L352.7 232.7 L354.1 233.2 L355.6 233.7 L357.0 234.1 L358.4 234.6 L359.8 235.1 L361.2 235.7 L362.6 236.2 L364.1 236.7 L365.5 237.2 L366.9 237.7 L368.3 238.2 L369.7 238.8 L371.1 239.3 L372.5 239.8 L373.9 240.3 L375.3 240.8 L376.7 241.4 L378.1 241.9 L379.5 242.4 L381.0 242.9 L382.4 243.4 L383.8 243.9 L385.2 244.4 L386.6 244.8 L388.0 245.3 L389.4 245.8 L390.9 246.3 L392.3 246.7 L393.7 247.2 L395.1 247.6 L396.6 248.0 L398.0 248.5 L399.4 248.9 L400.9 249.3 L402.3 249.8 L403.7 250.2 L405.2 250.6 L406.6 251.0 L408.0 251.4 L409.5 251.8 L410.9 252.2 L412.4 252.6 L413.8 253.0 L415.3 253.3 L416.7 253.7 L418.1 254.1 L419.6 254.5 L421.0 254.8 L422.5 255.2 L423.9 255.6 L425.4 255.9 L426.9 256.3 L428.3 256.6 L429.8 257.0 L431.3 257.3 L432.7 257.7 L434.2 258.0 L435.7 258.3 L437.2 258.7 L438.6 259.0 L440.1 259.3 L441.6 259.7 L443.1 260.0 L444.5 260.4 L446.0 260.8 L447.4 261.2 L448.9 261.6 L450.3 262.1 L451.7 262.6 L453.1 263.1 L454.5 263.6 L455.9 264.2 L457.2 264.8 L458.6 265.4 L459.9 266.1 L461.3 266.7 L462.6 267.4 L463.9 268.1 L465.2 268.8 L466.5 269.6 L467.8 270.3 L469.1 271.1 L470.4 271.8 L471.7 272.6 L473.0 273.4 L474.3 274.1 L475.6 274.9 L476.9 275.7 L478.1 276.4 L479.4 277.2 L480.7 278.0 L482.0 278.7 L483.3 279.4 L484.7 280.2 L486.0 280.9 L487.3 281.6 L488.6 282.2 L490.0 282.9 L491.4 283.5 L492.7 284.1 L494.1 284.7 L495.5 285.2 L496.9 285.8 L498.3 286.3 L499.7 286.8 L501.2 287.3 L502.6 287.8 L504.0 288.2 L505.5 288.7 L506.9 289.1 L508.4 289.5 L509.8 290.0 L511.3 290.4 L512.7 290.8 L514.2 291.2 L515.6 291.6 L517.1 292.0 L518.5 292.4 L519.9 292.8 L521.4 293.3 L522.8 293.7 L524.3 294.1 L525.7 294.5 L527.1 295.0 L528.6 295.4 L530.0 295.8 L531.4 296.3 L532.8 296.7 L534.3 297.2 L535.7 297.6 L537.1 298.1 L538.5 298.6 L539.9 299.1 L541.3 299.6 L542.7 300.1 L544.2 300.6 L545.6 301.1 L547.0 301.6 L548.4 302.1 L549.8 302.6 L551.2 303.1 L552.6 303.5 L554.1 304.0 L555.5 304.5 L556.9 304.9 L558.3 305.4 L559.8 305.8 L561.2 306.2 L562.6 306.5 L564.1 306.9 L565.6 307.2"/><path d="M70.1 458.8 L70.6 457.4 L71.1 455.9 L71.6 454.5 L72.1 453.1 L72.6 451.7 L73.1 450.2 L73.6 448.8 L74.1 447.4 L74.6 446.0 L75.1 444.5 L75.6 443.1 L76.1 441.7 L76.6 440.3 L77.1 438.9 L77.6 437.4 L78.1 436.0 L78.6 434.6 L79.1 433.2 L79.6 431.7 L80.1 430.3 L80.5 428.9 L81.0 427.5 L81.5 426.1 L82.0 424.6 L82.5 423.2 L83.0 421.8 L83.5 420.4 L84.0 419.0 L84.5 417.5 L85.0 416.1 L85.5 414.7 L86.0 413.3 L86.4 411.9 L86.9 410.4 L87.4 409.0 L87.9 407.6 L88.4 406.2 L88.9 404.8 L89.4 403.3 L89.9 401.9 L90.3 400.5 L90.8 399.1 L91.3 397.6 L91.8 396.2 L92.3 394.8 L92.8 393.4 L93.2 392.0 L93.7 390.5 L94.2 389.1 L94.7 387.7 L95.2 386.3 L95.6 384.8 L96.1 383.4 L96.6 382.0 L97.1 380.6 L97.5 379.2 L98.0 377.7 L98.5 376.3 L99.0 374.9 L99.4 373.5 L99.9 372.0 L100.4 370.6 L100.8 369.2 L101.3 367.8 L101.8 366.3 L102.2 364.9 L102.7 363.5 L103.2 362.0 L103.6 360.6 L104.1 359.2 L104.6 357.8 L105.0 356.3 L105.5 354.9 L105.9 353.5 L106.4 352.0 L106.9 350.6 L107.3 349.2 L107.8 347.7 L108.2 346.3 L108.7 344.9 L109.1 343.4 L109.6 342.0 L110.0 340.6 L110.5 339.1 L110.9 337.7 L111.4 336.3 L111.8 334.8 L112.2 333.4 L112.7 331.9 L113.1 330.5 L113.6 329.1 L114.0 327.6 L114.4 326.2 L114.9 324.7 L115.3 323.3 L115.7 321.9 L116.2 320.4 L116.6 319.0 L117.0 317.5 L117.4 316.1 L117.9 314.6 L118.3 313.2 L118.7 311.7 L119.1 310.3 L119.6 308.8 L120.0 307.4 L120.4 305.9 L120.8 304.5 L121.2 303.0 L121.6 301.6 L122.0 300.1 L122.4 298.7 L122.9 297.2 L123.3 295.8 L123.7 294.3 L124.1 292.8 L124.5 291.4 L124.9 289.9 L125.3 288.5 L125.7 287.0 L126.1 285.6 L126.5 284.1 L126.9 282.6 L127.3 281.2 L127.7 279.7 L128.1 278.3 L128.5 276.8 L128.9 275.3 L129.3 273.9 L129.8 272.4 L130.2 271.0 L130.6 269.5 L131.0 268.1 L131.4 266.6 L131.9 265.2 L132.3 263.7 L132.7 262.3 L133.2 260.9 L133.6 259.4 L134.1 258.0 L134.5 256.5 L135.0 255.1 L135.5 253.7 L135.9 252.2 L136.4 250.8 L136.9 249.4 L137.4 247.9 L137.9 246.5 L138.4 245.1 L138.9 243.7 L139.4 242.3 L139.9 240.9 L140.4 239.5 L141.0 238.1 L141.5 236.7 L142.1 235.3 L142.6 233.9 L143.2 232.5 L143.8 231.1 L144.4 229.7 L144.9 228.3 L145.6 227.0 L146.2 225.6 L146.8 224.2 L147.4 222.9 L148.1 221.5 L148.7 220.1 L149.4 218.8 L150.0 217.4 L150.7 216.1 L151.4 214.8 L152.1 213.4 L152.8 212.1 L153.6 210.8 L154.3 209.5 L155.1 208.2 L155.8 206.9 L156.6 205.6 L157.4 204.3 L158.2 203.0 L159.0 201.7 L159.8 200.4 L160.7 199.2 L161.6 197.9 L162.4 196.7 L163.3 195.4 L164.2 194.2 L165.2 193.0 L166.1 191.9 L167.1 190.7 L168.1 189.6 L169.1 188.6 L170.2 187.6 L171.3 186.6 L172.4 185.7 L173.6 184.8 L174.8 183.9 L176.0 183.2 L177.2 182.5 L178.5 181.8 L179.9 181.2 L181.2 180.7 L182.6 180.2 L184.1 179.8 L185.5 179.5 L187.0 179.2 L188.5 178.9 L190.0 178.7 L191.5 178.6 L193.0 178.5 L194.5 178.4 L196.0 178.4 L197.5 178.4 L199.1 178.5 L200.6 178.6 L202.1 178.7 L203.5 178.9 L205.0 179.1 L206.5 179.3 L208.0 179.6 L209.4 179.9 L210.9 180.2 L212.3 180.5 L213.8 180.9 L215.2 181.3 L216.7 181.7 L218.1 182.2 L219.5 182.6 L220.9 183.1 L222.3 183.6 L223.7 184.2 L225.1 184.7 L226.5 185.3 L227.9 185.9 L229.3 186.5 L230.7 187.1 L232.1 187.8 L233.4 188.4 L234.8 189.1 L236.2 189.8 L237.5 190.5 L238.9 191.2 L240.3 191.9 L241.6 192.6 L243.0 193.3 L244.3 194.0 L245.6 194.8 L247.0 195.5 L248.3 196.3 L249.6 197.0 L251.0 197.7 L252.3 198.5 L253.6 199.2 L254.9 200.0 L256.2 200.7 L257.6 201.5 L258.9 202.3 L260.2 203.0 L261.5 203.8 L262.8 204.5 L264.1 205.3 L265.4 206.1 L266.7 206.8 L268.0 207.6 L269.3 208.4 L270.6 209.1 L271.9 209.9 L273.2 210.7 L274.5 211.4 L275.8 212.2 L277.1 213.0 L278.4 213.7 L279.7 214.5 L280.9 215.3 L282.2 216.0 L283.5 216.8 L284.8 217.6 L286.1 218.3 L287.4 219.1 L288.7 219.8 L290.0 220.6 L291.3 221.4 L292.6 222.1 L293.8 222.9 L295.1 223.6 L296.4 224.4 L297.7 225.1 L299.0 225.9 L300.3 226.6 L301.6 227.3 L302.9 228.1 L304.2 228.8 L305.5 229.5 L306.8 230.3 L308.1 231.0 L309.4 231.7 L310.7 232.4 L312.1 233.1 L313.4 233.9 L314.7 234.6 L316.0 235.3 L317.3 236.0 L318.6 236.7 L320.0 237.3 L321.3 238.0 L322.6 238.7 L324.0 239.4 L325.3 240.1 L326.6 240.7 L328.0 241.4 L329.3 242.0 L330.7 242.7 L332.0 243.3 L333.4 244.0 L334.8 244.6 L336.1 245.2 L337.5 245.9 L338.9 246.5 L340.2 247.1 L341.6 247.7 L343.0 248.3 L344.4 248.9 L345.8 249.5 L347.1 250.1 L348.5 250.7 L349.9 251.2 L351.3 251.8 L352.7 252.4 L354.1 252.9 L355.5 253.5 L356.9 254.1 L358.3 254.6 L359.7 255.2 L361.1 255.7 L362.6 256.3 L364.0 256.8 L365.4 257.3 L366.8 257.9 L368.2 258.4 L369.6 258.9 L371.0 259.4 L372.5 260.0 L373.9 260.5 L375.3 261.0 L376.7 261.5 L378.1 262.0 L379.6 262.5 L381.0 263.0 L382.4 263.5 L383.8 264.0 L385.3 264.5 L386.7 265.0 L388.1 265.5 L389.5 266.0 L390.9 266.4 L392.4 266.9 L393.8 267.4 L395.2 267.9 L396.6 268.4 L398.1 268.9 L399.5 269.3 L400.9 269.8 L402.3 270.3 L403.7 270.8 L405.1 271.3 L406.6 271.8 L408.0 272.3 L409.4 272.8 L410.8 273.2 L412.2 273.7 L413.6 274.2 L415.0 274.7 L416.5 275.2 L417.9 275.8 L419.3 276.3 L420.7 276.8 L422.1 277.3 L423.5 277.8 L424.9 278.4 L426.3 278.9 L427.7 279.5 L429.1 280.0 L430.4 280.6 L431.8 281.1 L433.2 281.7 L434.6 282.3 L436.0 282.8 L437.4 283.4 L438.7 284.0 L440.1 284.6 L441.5 285.2 L442.9 285.9 L444.2 286.5 L445.6 287.1 L447.0 287.7 L448.3 288.4 L449.7 289.0 L451.0 289.7 L452.4 290.3 L453.8 291.0 L455.1 291.6 L456.5 292.3 L457.8 292.9 L459.2 293.6 L460.6 294.2 L461.9 294.9 L463.3 295.6 L464.6 296.2 L466.0 296.9 L467.3 297.6 L468.7 298.2 L470.0 298.9 L471.4 299.6 L472.7 300.2 L474.1 300.9 L475.5 301.5 L476.8 302.2 L478.2 302.8 L479.5 303.5 L480.9 304.1 L482.3 304.8 L483.6 305.4 L485.0 306.1 L486.3 306.7 L487.7 307.3 L489.1 307.9 L490.4 308.6 L491.8 309.2 L493.2 309.8 L494.6 310.4 L495.9 311.0 L497.3 311.5 L498.7 312.1 L500.1 312.7 L501.5 313.2 L502.9 313.8"/><path d="M69.9 458.6 L70.4 457.2 L71.0 455.8 L71.5 454.4 L72.0 453.0 L72.6 451.6 L73.1 450.2 L73.6 448.8 L74.1 447.4 L74.7 446.0 L75.2 444.6 L75.7 443.2 L76.2 441.8 L76.7 440.4 L77.3 438.9 L77.8 437.5 L78.3 436.1 L78.8 434.7 L79.3 433.3 L79.8 431.9 L80.3 430.5 L80.8 429.0 L81.3 427.6 L81.8 426.2 L82.3 424.8 L82.8 423.4 L83.3 421.9 L83.8 420.5 L84.3 419.1 L84.8 417.7 L85.3 416.3 L85.8 414.8 L86.2 413.4 L86.7 412.0 L87.2 410.6 L87.7 409.1 L88.2 407.7 L88.7 406.3 L89.1 404.9 L89.6 403.4 L90.1 402.0 L90.6 400.6 L91.0 399.1 L91.5 397.7 L92.0 396.3 L92.4 394.9 L92.9 393.4 L93.4 392.0 L93.8 390.6 L94.3 389.1 L94.8 387.7 L95.2 386.3 L95.7 384.8 L96.2 383.4 L96.6 382.0 L97.1 380.5 L97.5 379.1 L98.0 377.7 L98.4 376.2 L98.9 374.8 L99.4 373.4 L99.8 371.9 L100.3 370.5 L100.7 369.1 L101.2 367.6 L101.6 366.2 L102.1 364.8 L102.5 363.3 L103.0 361.9 L103.4 360.4 L103.9 359.0 L104.3 357.6 L104.8 356.1 L105.2 354.7 L105.7 353.3 L106.1 351.8 L106.6 350.4 L107.0 348.9 L107.4 347.5 L107.9 346.1 L108.3 344.6 L108.8 343.2 L109.2 341.7 L109.7 340.3 L110.1 338.9 L110.5 337.4 L111.0 336.0 L111.4 334.5 L111.9 333.1 L112.3 331.7 L112.8 330.2 L113.2 328.8 L113.6 327.3 L114.1 325.9 L114.5 324.5 L115.0 323.0 L115.4 321.6 L115.9 320.2 L116.3 318.7 L116.7 317.3 L117.2 315.8 L117.6 314.4 L118.1 313.0 L118.5 311.5 L119.0 310.1 L119.4 308.6 L119.8 307.2 L120.3 305.8 L120.7 304.3 L121.2 302.9 L121.6 301.5 L122.1 300.0 L122.5 298.6 L123.0 297.1 L123.4 295.7 L123.9 294.3 L124.3 292.8 L124.8 291.4 L125.2 290.0 L125.7 288.5 L126.1 287.1 L126.6 285.7 L127.0 284.2 L127.5 282.8 L127.9 281.4 L128.4 279.9 L128.8 278.5 L129.3 277.1 L129.8 275.6 L130.2 274.2 L130.7 272.8 L131.1 271.3 L131.6 269.9 L132.1 268.5 L132.6 267.1 L133.0 265.6 L133.5 264.2 L134.0 262.8 L134.5 261.4 L134.9 259.9 L135.4 258.5 L135.9 257.1 L136.4 255.7 L136.9 254.2 L137.4 252.8 L137.9 251.4 L138.4 250.0 L138.9 248.6 L139.4 247.1 L139.9 245.7 L140.4 244.3 L140.9 242.9 L141.4 241.5 L141.9 240.1 L142.4 238.7 L143.0 237.3 L143.5 235.8 L144.0 234.4 L144.6 233.0 L145.1 231.6 L145.7 230.2 L146.2 228.8 L146.8 227.4 L147.3 226.0 L147.9 224.7 L148.5 223.3 L149.1 221.9 L149.7 220.5 L150.4 219.1 L151.0 217.8 L151.6 216.4 L152.3 215.0 L153.0 213.7 L153.7 212.3 L154.4 211.0 L155.1 209.6 L155.8 208.3 L156.6 207.0 L157.3 205.7 L158.1 204.4 L158.9 203.1 L159.8 201.8 L160.7 200.6 L161.6 199.3 L162.5 198.2 L163.5 197.0 L164.6 195.9 L165.7 194.9 L166.8 193.9 L167.9 192.9 L169.1 192.0 L170.3 191.1 L171.6 190.3 L172.9 189.6 L174.2 188.9 L175.5 188.3 L176.8 187.8 L178.2 187.3 L179.6 186.9 L181.0 186.6 L182.5 186.3 L183.9 186.1 L185.4 186.0 L186.8 185.9 L188.3 185.9 L189.8 186.0 L191.3 186.0 L192.8 186.2 L194.4 186.3 L195.9 186.5 L197.4 186.7 L198.9 187.0 L200.4 187.2 L201.9 187.5 L203.5 187.7 L205.0 188.0 L206.5 188.3 L208.0 188.6 L209.5 188.9 L210.9 189.2 L212.4 189.5 L213.9 189.8 L215.4 190.2 L216.9 190.5 L218.3 190.9 L219.8 191.2 L221.3 191.6 L222.7 192.0 L224.2 192.4 L225.7 192.8 L227.1 193.2 L228.5 193.6 L230.0 194.0 L231.4 194.4 L232.9 194.9 L234.3 195.3 L235.7 195.8 L237.2 196.2 L238.6 196.7 L240.0 197.2 L241.4 197.7 L242.8 198.2 L244.2 198.7 L245.6 199.2 L247.0 199.7 L248.4 200.2 L249.8 200.8 L251.2 201.3 L252.6 201.9 L254.0 202.4 L255.4 203.0 L256.8 203.6 L258.2 204.2 L259.5 204.7 L260.9 205.3 L262.3 205.9 L263.6 206.6 L265.0 207.2 L266.4 207.8 L267.7 208.4 L269.1 209.1 L270.4 209.7 L271.8 210.4 L273.1 211.0 L274.5 211.7 L275.8 212.4 L277.1 213.0 L278.5 213.7 L279.8 214.4 L281.2 215.1 L282.5 215.8 L283.8 216.5 L285.1 217.2 L286.5 217.9 L287.8 218.6 L289.1 219.3 L290.5 220.0 L291.8 220.7 L293.1 221.5 L294.4 222.2 L295.8 222.9 L297.1 223.6 L298.4 224.3 L299.7 225.1 L301.0 225.8 L302.4 226.5 L303.7 227.2 L305.0 228.0 L306.3 228.7 L307.6 229.4 L309.0 230.1 L310.3 230.9 L311.6 231.6 L312.9 232.3 L314.3 233.0 L315.6 233.7 L316.9 234.5 L318.2 235.2 L319.6 235.9 L320.9 236.6 L322.2 237.3 L323.6 238.0 L324.9 238.7 L326.2 239.4 L327.6 240.0 L328.9 240.7 L330.3 241.4 L331.6 242.1 L333.0 242.7 L334.3 243.4 L335.7 244.0 L337.0 244.7 L338.4 245.3 L339.8 246.0 L341.1 246.6 L342.5 247.2 L343.9 247.8 L345.2 248.4 L346.6 249.0 L348.0 249.6 L349.4 250.2 L350.8 250.8 L352.1 251.4 L353.5 251.9 L354.9 252.5 L356.3 253.1 L357.7 253.6 L359.1 254.2 L360.5 254.7 L361.9 255.3 L363.3 255.8 L364.7 256.3 L366.1 256.9 L367.5 257.4 L368.9 257.9 L370.4 258.4 L371.8 259.0 L373.2 259.5 L374.6 260.0 L376.0 260.5 L377.4 261.0 L378.8 261.5 L380.3 262.0 L381.7 262.5 L383.1 263.0 L384.5 263.5 L385.9 264.0 L387.3 264.5 L388.8 265.0 L390.2 265.5 L391.6 266.0 L393.0 266.5 L394.4 267.0 L395.9 267.5 L397.3 268.0 L398.7 268.5 L400.1 269.0 L401.5 269.5 L403.0 270.0 L404.4 270.5 L405.8 271.0 L407.2 271.5 L408.6 272.0 L410.1 272.5 L411.5 273.0 L412.9 273.5 L414.3 274.0 L415.7 274.5 L417.1 275.0 L418.5 275.5 L420.0 276.0 L421.4 276.5 L422.8 277.0 L424.2 277.6 L425.6 278.1 L427.0 278.6 L428.4 279.1 L429.8 279.7 L431.2 280.2 L432.6 280.7 L434.0 281.3 L435.4 281.8 L436.8 282.4 L438.2 282.9 L439.6 283.5 L441.0 284.0 L442.4 284.6 L443.8 285.2 L445.2 285.7 L446.6 286.3 L448.0 286.9 L449.4 287.5 L450.8 288.0 L452.1 288.6 L453.5 289.2 L454.9 289.8 L456.3 290.4 L457.6 291.0 L459.0 291.7 L460.4 292.3 L461.8 292.9 L463.1 293.5 L464.5 294.1 L465.9 294.8 L467.2 295.4 L468.6 296.0 L470.0 296.7 L471.3 297.3 L472.7 297.9 L474.1 298.6 L475.4 299.2 L476.8 299.8 L478.2 300.5 L479.5 301.1 L480.9 301.7 L482.2 302.4 L483.6 303.0 L485.0 303.6 L486.3 304.2 L487.7 304.8 L489.1 305.5 L490.4 306.1 L491.8 306.7 L493.1 307.3 L494.5 307.9 L495.9 308.5 L497.2 309.1 L498.6 309.7 L500.0 310.2 L501.4 310.8 L502.7 311.4 L504.1 311.9 L505.5 312.5 L506.9 313.0 L508.2 313.6"/><path d="M69.4 458.5 L70.1 457.1 L70.9 455.8 L71.6 454.5 L72.3 453.1 L72.9 451.7 L73.5 450.4 L74.1 449.0 L74.7 447.6 L75.2 446.2 L75.7 444.8 L76.3 443.4 L76.8 441.9 L77.2 440.5 L77.7 439.1 L78.2 437.7 L78.6 436.2 L79.1 434.8 L79.5 433.4 L80.0 431.9 L80.4 430.5 L80.9 429.1 L81.3 427.6 L81.8 426.2 L82.2 424.8 L82.7 423.3 L83.1 421.9 L83.6 420.5 L84.1 419.0 L84.5 417.6 L85.0 416.2 L85.5 414.7 L86.0 413.3 L86.4 411.9 L86.9 410.4 L87.4 409.0 L87.9 407.6 L88.4 406.2 L88.8 404.7 L89.3 403.3 L89.8 401.9 L90.3 400.5 L90.8 399.0 L91.3 397.6 L91.8 396.2 L92.3 394.8 L92.7 393.3 L93.2 391.9 L93.7 390.5 L94.2 389.0 L94.7 387.6 L95.2 386.2 L95.7 384.8 L96.2 383.3 L96.7 381.9 L97.2 380.5 L97.7 379.1 L98.1 377.6 L98.6 376.2 L99.1 374.8 L99.6 373.4 L100.1 371.9 L100.6 370.5 L101.1 369.1 L101.5 367.7 L102.0 366.2 L102.5 364.8 L103.0 363.4 L103.5 361.9 L103.9 360.5 L104.4 359.1 L104.9 357.7 L105.4 356.2 L105.8 354.8 L106.3 353.4 L106.8 351.9 L107.2 350.5 L107.7 349.1 L108.1 347.6 L108.6 346.2 L109.0 344.8 L109.5 343.3 L109.9 341.9 L110.4 340.5 L110.8 339.0 L111.3 337.6 L111.7 336.2 L112.2 334.7 L112.6 333.3 L113.0 331.8 L113.5 330.4 L113.9 329.0 L114.3 327.5 L114.8 326.1 L115.2 324.7 L115.6 323.2 L116.1 321.8 L116.5 320.3 L116.9 318.9 L117.4 317.5 L117.8 316.0 L118.2 314.6 L118.7 313.1 L119.1 311.7 L119.5 310.3 L119.9 308.8 L120.4 307.4 L120.8 305.9 L121.2 304.5 L121.7 303.1 L122.1 301.6 L122.5 300.2 L123.0 298.8 L123.4 297.3 L123.8 295.9 L124.3 294.4 L124.7 293.0 L125.2 291.6 L125.6 290.1 L126.0 288.7 L126.5 287.3 L126.9 285.8 L127.4 284.4 L127.8 282.9 L128.3 281.5 L128.7 280.1 L129.2 278.6 L129.7 277.2 L130.1 275.8 L130.6 274.3 L131.1 272.9 L131.5 271.5 L132.0 270.0 L132.5 268.6 L133.0 267.2 L133.4 265.7 L133.9 264.3 L134.4 262.9 L134.9 261.5 L135.4 260.0 L135.9 258.6 L136.4 257.2 L136.9 255.7 L137.4 254.3 L137.9 252.9 L138.5 251.5 L139.0 250.1 L139.5 248.6 L140.1 247.2 L140.6 245.8 L141.2 244.4 L141.7 243.0 L142.3 241.6 L142.9 240.2 L143.5 238.8 L144.1 237.4 L144.7 236.0 L145.3 234.7 L145.9 233.3 L146.6 231.9 L147.2 230.6 L147.9 229.3 L148.6 227.9 L149.3 226.6 L150.1 225.3 L150.8 224.0 L151.6 222.7 L152.3 221.4 L153.1 220.1 L153.9 218.9 L154.8 217.6 L155.6 216.4 L156.5 215.2 L157.4 214.0 L158.3 212.8 L159.2 211.6 L160.2 210.4 L161.2 209.3 L162.2 208.2 L163.2 207.0 L164.3 206.0 L165.4 204.9 L166.5 203.9 L167.6 202.9 L168.8 202.0 L170.0 201.1 L171.2 200.3 L172.5 199.5 L173.7 198.8 L175.0 198.1 L176.4 197.6 L177.7 197.1 L179.1 196.7 L180.6 196.3 L182.0 196.1 L183.5 195.9 L185.0 195.8 L186.5 195.7 L188.1 195.7 L189.6 195.7 L191.2 195.8 L192.7 195.9 L194.3 196.0 L195.8 196.1 L197.4 196.3 L198.9 196.4 L200.4 196.6 L201.9 196.8 L203.4 197.0 L204.9 197.2 L206.4 197.4 L207.9 197.7 L209.4 197.9 L210.8 198.2 L212.3 198.4 L213.8 198.7 L215.2 199.0 L216.7 199.2 L218.1 199.5 L219.6 199.7 L221.0 200.0 L222.5 200.2 L224.0 200.5 L225.4 200.7 L226.9 200.9 L228.4 201.1 L229.9 201.3 L231.4 201.4 L232.9 201.6 L234.4 201.7 L235.9 201.8 L237.4 201.9 L238.9 202.0 L240.5 202.1 L242.0 202.1 L243.5 202.2 L245.1 202.3 L246.6 202.4 L248.1 202.4 L249.7 202.5 L251.2 202.6 L252.7 202.7 L254.3 202.8 L255.8 202.9 L257.3 203.0 L258.8 203.1 L260.3 203.3 L261.8 203.5 L263.3 203.7 L264.8 203.9 L266.3 204.1 L267.8 204.4 L269.2 204.7 L270.7 205.0 L272.1 205.4 L273.6 205.8 L275.0 206.2 L276.4 206.6 L277.8 207.1 L279.2 207.6 L280.6 208.1 L282.0 208.6 L283.3 209.2 L284.7 209.7 L286.1 210.3 L287.4 210.9 L288.8 211.5 L290.1 212.2 L291.4 212.8 L292.8 213.5 L294.1 214.2 L295.4 214.9 L296.8 215.6 L298.1 216.3 L299.4 217.0 L300.7 217.7 L302.0 218.4 L303.4 219.2 L304.7 219.9 L306.0 220.7 L307.3 221.4 L308.6 222.1 L309.9 222.9 L311.2 223.6 L312.5 224.4 L313.9 225.1 L315.2 225.8 L316.5 226.6 L317.8 227.3 L319.2 228.0 L320.5 228.7 L321.8 229.4 L323.2 230.1 L324.5 230.8 L325.9 231.4 L327.2 232.1 L328.6 232.7 L329.9 233.3 L331.3 233.9 L332.7 234.5 L334.1 235.1 L335.5 235.6 L336.9 236.1 L338.3 236.6 L339.7 237.1 L341.2 237.6 L342.6 238.0 L344.0 238.4 L345.5 238.8 L346.9 239.2 L348.4 239.6 L349.8 240.0 L351.3 240.4 L352.8 240.8 L354.2 241.1 L355.7 241.5 L357.1 241.9 L358.6 242.3 L360.0 242.8 L361.4 243.2 L362.8 243.7 L364.3 244.2 L365.7 244.7 L367.0 245.2 L368.4 245.8 L369.8 246.4 L371.1 247.0 L372.5 247.7 L373.8 248.3 L375.2 249.0 L376.5 249.7 L377.8 250.4 L379.1 251.1 L380.5 251.8 L381.8 252.5 L383.1 253.2 L384.4 253.9 L385.8 254.6 L387.1 255.3 L388.4 256.0 L389.8 256.7 L391.1 257.4 L392.5 258.0 L393.8 258.6 L395.2 259.2 L396.6 259.8 L398.0 260.4 L399.4 261.0 L400.8 261.5 L402.2 262.0 L403.6 262.6 L405.0 263.1 L406.4 263.6 L407.8 264.0 L409.3 264.5 L410.7 265.0 L412.1 265.5 L413.6 265.9 L415.0 266.3 L416.5 266.8 L417.9 267.2 L419.4 267.6 L420.8 268.1 L422.2 268.5 L423.7 268.9 L425.1 269.3 L426.6 269.7 L428.0 270.2 L429.5 270.6 L430.9 271.0 L432.4 271.4 L433.8 271.8 L435.3 272.2 L436.7 272.7 L438.1 273.1 L439.6 273.5 L441.0 274.0 L442.4 274.4 L443.8 274.8 L445.3 275.2 L446.7 275.6 L448.1 276.0 L449.6 276.4 L451.0 276.8 L452.4 277.2 L453.9 277.5 L455.3 277.8 L456.8 278.1 L458.3 278.3 L459.8 278.6 L461.2 278.8 L462.7 278.9 L464.2 279.0 L465.8 279.2 L467.3 279.3 L468.8 279.4 L470.3 279.4 L471.8 279.5 L473.4 279.7 L474.9 279.8 L476.4 280.0 L477.9 280.1 L479.4 280.4 L480.9 280.6 L482.4 280.9 L483.8 281.2 L485.3 281.6 L486.7 282.0 L488.2 282.5 L489.6 283.0 L491.0 283.6"/><path d="M69.4 458.5 L70.3 457.2 L71.2 456.0 L72.0 454.7 L72.8 453.5 L73.6 452.2 L74.4 450.9 L75.1 449.6 L75.9 448.2 L76.6 446.9 L77.2 445.6 L77.9 444.2 L78.6 442.9 L79.2 441.5 L79.8 440.2 L80.4 438.8 L81.0 437.4 L81.6 436.0 L82.1 434.6 L82.7 433.2 L83.2 431.8 L83.7 430.4 L84.2 429.0 L84.7 427.6 L85.2 426.1 L85.7 424.7 L86.2 423.3 L86.6 421.8 L87.1 420.4 L87.6 419.0 L88.0 417.5 L88.5 416.1 L89.0 414.7 L89.4 413.2 L89.9 411.8 L90.3 410.4 L90.8 408.9 L91.3 407.5 L91.7 406.1 L92.2 404.6 L92.7 403.2 L93.2 401.8 L93.7 400.4 L94.2 399.0 L94.7 397.6 L95.2 396.1 L95.8 394.7 L96.3 393.3 L96.9 392.0 L97.4 390.6 L98.0 389.2 L98.6 387.8 L99.2 386.4 L99.7 385.0 L100.3 383.6 L100.9 382.3 L101.5 380.9 L102.1 379.5 L102.7 378.2 L103.4 376.8 L104.0 375.4 L104.6 374.0 L105.2 372.7 L105.8 371.3 L106.5 370.0 L107.1 368.6 L107.7 367.2 L108.3 365.9 L109.0 364.5 L109.6 363.1 L110.2 361.8 L110.8 360.4 L111.4 359.0 L112.1 357.7 L112.7 356.3 L113.3 354.9 L113.9 353.5 L114.5 352.2 L115.1 350.8 L115.7 349.4 L116.3 348.0 L116.9 346.6 L117.5 345.2 L118.1 343.9 L118.6 342.5 L119.2 341.1 L119.8 339.7 L120.3 338.3 L120.9 336.9 L121.5 335.5 L122.0 334.1 L122.6 332.7 L123.1 331.3 L123.7 329.9 L124.2 328.4 L124.7 327.0 L125.3 325.6 L125.8 324.2 L126.3 322.8 L126.9 321.4 L127.4 320.0 L127.9 318.6 L128.4 317.1 L129.0 315.7 L129.5 314.3 L130.0 312.9 L130.5 311.5 L131.1 310.1 L131.6 308.6 L132.1 307.2 L132.6 305.8 L133.1 304.4 L133.6 303.0 L134.1 301.6 L134.7 300.1 L135.2 298.7 L135.7 297.3 L136.2 295.9 L136.7 294.5 L137.2 293.1 L137.8 291.6 L138.3 290.2 L138.8 288.8 L139.3 287.4 L139.8 286.0 L140.4 284.6 L140.9 283.2 L141.4 281.8 L142.0 280.4 L142.5 279.0 L143.0 277.6 L143.6 276.2 L144.1 274.8 L144.6 273.4 L145.2 272.0 L145.7 270.6 L146.3 269.2 L146.8 267.8 L147.4 266.4 L147.9 265.0 L148.5 263.6 L149.1 262.2 L149.6 260.9 L150.2 259.5 L150.8 258.1 L151.4 256.8 L152.0 255.4 L152.6 254.0 L153.2 252.7 L153.8 251.3 L154.4 249.9 L155.0 248.6 L155.6 247.2 L156.3 245.9 L156.9 244.6 L157.6 243.2 L158.3 241.9 L158.9 240.6 L159.6 239.2 L160.4 237.9 L161.1 236.6 L161.8 235.3 L162.6 234.0 L163.4 232.7 L164.2 231.4 L165.0 230.1 L165.8 228.8 L166.7 227.5 L167.6 226.3 L168.5 225.0 L169.4 223.8 L170.3 222.5 L171.3 221.3 L172.2 220.1 L173.2 218.9 L174.2 217.8 L175.3 216.6 L176.3 215.5 L177.4 214.4 L178.5 213.3 L179.6 212.3 L180.7 211.3 L181.8 210.3 L183.0 209.4 L184.2 208.5 L185.4 207.6 L186.6 206.7 L187.8 205.9 L189.0 205.2 L190.3 204.5 L191.6 203.8 L192.9 203.2 L194.2 202.6 L195.6 202.0 L196.9 201.5 L198.3 201.1 L199.7 200.7 L201.1 200.4 L202.5 200.1 L204.0 199.9 L205.4 199.7 L206.9 199.5 L208.4 199.4 L209.9 199.4 L211.4 199.3 L212.9 199.3 L214.4 199.3 L215.9 199.4 L217.4 199.5 L219.0 199.6 L220.5 199.7 L222.1 199.8 L223.6 199.9 L225.2 200.1 L226.7 200.3 L228.2 200.4 L229.8 200.6 L231.3 200.8 L232.9 200.9 L234.4 201.1 L235.9 201.3 L237.4 201.4 L238.9 201.6 L240.4 201.8 L242.0 202.0 L243.5 202.2 L244.9 202.4 L246.4 202.6 L247.9 202.9 L249.4 203.1 L250.9 203.4 L252.3 203.7 L253.8 204.0 L255.2 204.3 L256.7 204.6 L258.1 205.0 L259.5 205.4 L261.0 205.8 L262.4 206.2 L263.8 206.7 L265.2 207.2 L266.6 207.7 L268.0 208.2 L269.4 208.7 L270.7 209.3 L272.1 209.9 L273.5 210.5 L274.8 211.1 L276.2 211.7 L277.6 212.3 L278.9 213.0 L280.3 213.6 L281.6 214.3 L283.0 215.0 L284.3 215.6 L285.7 216.3 L287.0 217.0 L288.4 217.7 L289.7 218.4 L291.0 219.0 L292.4 219.7 L293.7 220.4 L295.1 221.1 L296.4 221.8 L297.8 222.4 L299.2 223.1 L300.5 223.7 L301.9 224.4 L303.2 225.0 L304.6 225.6 L306.0 226.3 L307.3 226.9 L308.7 227.5 L310.1 228.1 L311.5 228.7 L312.9 229.3 L314.2 229.9 L315.6 230.4 L317.0 231.0 L318.4 231.6 L319.8 232.1 L321.2 232.7 L322.6 233.2 L324.0 233.8 L325.4 234.3 L326.8 234.9 L328.2 235.4 L329.6 235.9 L331.0 236.5 L332.4 237.0 L333.8 237.5 L335.2 238.0 L336.7 238.5 L338.1 239.1 L339.5 239.6 L340.9 240.1 L342.3 240.6 L343.7 241.1 L345.1 241.6 L346.6 242.1 L348.0 242.6 L349.4 243.1 L350.8 243.6 L352.2 244.1 L353.6 244.6 L355.1 245.1 L356.5 245.6 L357.9 246.1 L359.3 246.6 L360.7 247.1 L362.2 247.6 L363.6 248.1 L365.0 248.6 L366.4 249.1 L367.8 249.6 L369.2 250.1 L370.7 250.6 L372.1 251.1 L373.5 251.6 L374.9 252.1 L376.3 252.6 L377.7 253.2 L379.1 253.7 L380.6 254.2 L382.0 254.7 L383.4 255.2 L384.8 255.8 L386.2 256.3 L387.6 256.8 L389.0 257.4 L390.4 257.9 L391.8 258.5 L393.2 259.0 L394.6 259.6 L396.0 260.1 L397.4 260.7 L398.8 261.2 L400.2 261.8 L401.6 262.4 L402.9 263.0 L404.3 263.5 L405.7 264.1 L407.1 264.7 L408.5 265.3 L409.8 265.9 L411.2 266.5 L412.6 267.1 L414.0 267.7 L415.3 268.4 L416.7 269.0 L418.1 269.6 L419.4 270.2 L420.8 270.9 L422.2 271.5 L423.5 272.2 L424.9 272.8 L426.2 273.5 L427.6 274.1 L428.9 274.8 L430.3 275.5 L431.6 276.1 L433.0 276.8 L434.3 277.4 L435.7 278.1 L437.0 278.7 L438.4 279.3 L439.7 279.9 L441.1 280.5 L442.5 281.1 L443.9 281.7 L445.2 282.2 L446.6 282.8 L448.0 283.3 L449.4 283.7 L450.8 284.2 L452.3 284.6 L453.7 285.0 L455.1 285.4 L456.6 285.8 L458.0 286.1 L459.5 286.3 L461.0 286.6 L462.5 286.8 L464.0 287.0 L465.5 287.1 L467.0 287.2 L468.6 287.2 L470.1 287.2 L471.7 287.1 L473.3 287.0"/><path d="M69.2 458.4 L70.4 457.4 L71.7 456.4 L72.9 455.4 L74.0 454.3 L75.1 453.2 L76.1 452.1 L77.1 451.0 L78.1 449.8 L79.0 448.7 L79.8 447.4 L80.7 446.2 L81.5 445.0 L82.3 443.7 L83.0 442.4 L83.7 441.1 L84.4 439.8 L85.1 438.5 L85.8 437.1 L86.4 435.8 L87.0 434.4 L87.6 433.0 L88.2 431.6 L88.7 430.2 L89.3 428.8 L89.8 427.4 L90.4 426.0 L90.9 424.6 L91.4 423.2 L92.0 421.8 L92.5 420.4 L93.0 419.0 L93.6 417.5 L94.1 416.1 L94.6 414.7 L95.2 413.3 L95.7 411.9 L96.3 410.5 L96.8 409.1 L97.4 407.7 L97.9 406.3 L98.5 404.9 L99.0 403.5 L99.6 402.1 L100.1 400.7 L100.7 399.3 L101.3 397.9 L101.8 396.5 L102.4 395.2 L103.0 393.8 L103.5 392.4 L104.1 391.0 L104.7 389.6 L105.2 388.2 L105.8 386.8 L106.4 385.4 L107.0 384.1 L107.5 382.7 L108.1 381.3 L108.7 379.9 L109.3 378.5 L109.8 377.1 L110.4 375.8 L111.0 374.4 L111.6 373.0 L112.2 371.6 L112.7 370.2 L113.3 368.8 L113.9 367.5 L114.5 366.1 L115.1 364.7 L115.7 363.3 L116.2 361.9 L116.8 360.5 L117.4 359.2 L118.0 357.8 L118.6 356.4 L119.1 355.0 L119.7 353.6 L120.3 352.2 L120.9 350.8 L121.4 349.4 L122.0 348.1 L122.6 346.7 L123.2 345.3 L123.7 343.9 L124.3 342.5 L124.9 341.1 L125.5 339.7 L126.0 338.3 L126.6 336.9 L127.2 335.5 L127.8 334.1 L128.3 332.7 L128.9 331.4 L129.5 330.0 L130.1 328.6 L130.7 327.2 L131.2 325.8 L131.8 324.4 L132.4 323.0 L133.0 321.6 L133.6 320.2 L134.2 318.8 L134.8 317.4 L135.3 316.1 L135.9 314.7 L136.5 313.3 L137.1 311.9 L137.7 310.5 L138.3 309.1 L138.9 307.8 L139.6 306.4 L140.2 305.0 L140.8 303.6 L141.4 302.2 L142.0 300.9 L142.6 299.5 L143.3 298.1 L143.9 296.8 L144.5 295.4 L145.2 294.0 L145.8 292.7 L146.5 291.3 L147.1 290.0 L147.8 288.6 L148.4 287.3 L149.1 285.9 L149.8 284.6 L150.4 283.2 L151.1 281.9 L151.8 280.5 L152.5 279.2 L153.2 277.9 L153.9 276.5 L154.6 275.2 L155.3 273.9 L156.0 272.5 L156.7 271.2 L157.5 269.9 L158.2 268.6 L158.9 267.3 L159.7 266.0 L160.4 264.7 L161.2 263.4 L161.9 262.1 L162.7 260.8 L163.5 259.5 L164.3 258.2 L165.1 257.0 L165.9 255.7 L166.7 254.4 L167.5 253.2 L168.3 251.9 L169.2 250.6 L170.0 249.4 L170.9 248.2 L171.7 247.0 L172.6 245.7 L173.5 244.5 L174.4 243.4 L175.3 242.2 L176.3 241.0 L177.2 239.9 L178.2 238.7 L179.2 237.6 L180.2 236.5 L181.2 235.4 L182.2 234.4 L183.3 233.3 L184.3 232.3 L185.4 231.3 L186.5 230.3 L187.7 229.3 L188.8 228.4 L190.0 227.5 L191.2 226.6 L192.4 225.7 L193.6 224.9 L194.9 224.0 L196.2 223.2 L197.5 222.5 L198.8 221.7 L200.2 221.0 L201.5 220.3 L202.9 219.6 L204.3 219.0 L205.7 218.3 L207.2 217.7 L208.6 217.1 L210.0 216.5 L211.4 215.9 L212.8 215.3 L214.2 214.7 L215.6 214.1 L216.9 213.5 L218.3 212.9 L219.6 212.3 L221.0 211.8 L222.3 211.2 L223.7 210.7 L225.1 210.1 L226.4 209.6 L227.8 209.1 L229.2 208.6 L230.7 208.2 L232.1 207.7 L233.5 207.3 L235.0 206.9 L236.4 206.5 L237.9 206.1 L239.4 205.8 L240.9 205.4 L242.3 205.1 L243.8 204.9 L245.3 204.6 L246.8 204.4 L248.3 204.1 L249.8 203.9 L251.4 203.8 L252.9 203.6 L254.4 203.5 L255.9 203.4 L257.4 203.3 L258.9 203.3 L260.4 203.3 L262.0 203.3 L263.5 203.3 L265.0 203.3 L266.5 203.4 L268.0 203.5 L269.5 203.7 L271.0 203.8 L272.5 204.0 L274.0 204.2 L275.4 204.5 L276.9 204.8 L278.4 205.1 L279.8 205.4 L281.3 205.8 L282.7 206.2 L284.1 206.6 L285.6 207.1 L287.0 207.6 L288.4 208.1 L289.7 208.7 L291.1 209.2 L292.5 209.8 L293.9 210.5 L295.2 211.1 L296.6 211.8 L297.9 212.4 L299.2 213.1 L300.6 213.9 L301.9 214.6 L303.2 215.3 L304.5 216.1 L305.8 216.8 L307.1 217.6 L308.5 218.4 L309.8 219.1 L311.1 219.9 L312.4 220.7 L313.7 221.5 L315.0 222.3 L316.3 223.0 L317.6 223.8 L318.9 224.6 L320.2 225.3 L321.5 226.1 L322.9 226.8 L324.2 227.5 L325.5 228.2 L326.8 228.9 L328.2 229.6 L329.5 230.2 L330.9 230.9 L332.2 231.5 L333.6 232.1 L335.0 232.6 L336.4 233.2 L337.8 233.7 L339.2 234.1 L340.6 234.6 L342.0 235.0 L343.4 235.4 L344.9 235.8 L346.3 236.1 L347.8 236.5 L349.2 236.8 L350.7 237.1 L352.1 237.4 L353.6 237.7 L355.1 238.0 L356.5 238.3 L358.0 238.6 L359.5 238.9 L360.9 239.2 L362.4 239.5 L363.9 239.8 L365.3 240.2 L366.8 240.6 L368.2 240.9 L369.6 241.4 L371.1 241.8 L372.5 242.2 L373.9 242.7 L375.3 243.2 L376.7 243.6 L378.1 244.1 L379.6 244.6 L381.0 245.2 L382.4 245.7 L383.8 246.2 L385.2 246.7 L386.6 247.3 L388.0 247.8 L389.4 248.3 L390.7 248.9 L392.1 249.4 L393.5 249.9 L394.9 250.4 L396.3 251.0 L397.7 251.5 L399.1 252.0 L400.5 252.6 L401.9 253.1 L403.3 253.7 L404.7 254.3 L406.0 254.9 L407.4 255.5 L408.7 256.2 L410.1 256.8 L411.4 257.5 L412.8 258.1 L414.1 258.8 L415.5 259.4 L416.9 260.0 L418.2 260.6 L419.6 261.1 L421.0 261.7 L422.4 262.3 L423.8 262.8 L425.2 263.3 L426.6 263.8 L428.0 264.3 L429.4 264.8 L430.8 265.3 L432.2 265.8 L433.7 266.2 L435.1 266.7 L436.5 267.1 L437.9 267.6 L439.4 268.0 L440.8 268.5 L442.2 268.9 L443.7 269.3 L445.1 269.7 L446.6 270.2 L448.0 270.6 L449.4 271.0 L450.9 271.4 L452.3 271.8 L453.8 272.2 L455.2 272.6 L456.7 273.0 L458.1 273.5 L459.6 273.9 L461.0 274.3 L462.4 274.7 L463.9 275.1 L465.3 275.6 L466.8 276.0 L468.2 276.5 L469.6 276.9 L471.0 277.4 L472.5 277.8 L473.9 278.3 L475.3 278.8 L476.7 279.3 L478.2 279.8 L479.6 280.2 L481.0 280.7 L482.4 281.3 L483.8 281.8 L485.2 282.3 L486.6 282.8 L488.0 283.3 L489.4 283.8 L490.8 284.4 L492.2 284.9 L493.7 285.4 L495.1 286.0 L496.5 286.5 L497.9 287.0 L499.3 287.6 L500.7 288.1 L502.1 288.7 L503.5 289.2 L504.9 289.8 L506.3 290.3 L507.7 290.9 L509.1 291.4 L510.5 292.0 L511.9 292.5 L513.3 293.0 L514.7 293.6 L516.1 294.1 L517.5 294.7 L518.9 295.2 L520.3 295.7 L521.7 296.3 L523.1 296.8 L524.5 297.3 L525.9 297.8 L527.4 298.3 L528.8 298.9 L530.2 299.4"/></g>
<path d="M69.5 458.5 L69.9 457.1 L70.4 455.6 L70.8 454.2 L71.3 452.7 L71.7 451.3 L72.2 449.8 L72.6 448.4 L73.1 447.0 L73.5 445.5 L74.0 444.1 L74.4 442.6 L74.9 441.2 L75.3 439.7 L75.8 438.3 L76.2 436.8 L76.6 435.4 L77.1 434.0 L77.5 432.5 L78.0 431.1 L78.4 429.6 L78.9 428.2 L79.3 426.7 L79.7 425.3 L80.2 423.8 L80.6 422.4 L81.1 420.9 L81.5 419.5 L81.9 418.1 L82.4 416.6 L82.8 415.2 L83.2 413.7 L83.7 412.3 L84.1 410.8 L84.6 409.4 L85.0 407.9 L85.4 406.5 L85.9 405.0 L86.3 403.6 L86.7 402.1 L87.2 400.7 L87.6 399.3 L88.1 397.8 L88.5 396.4 L88.9 394.9 L89.4 393.5 L89.8 392.0 L90.2 390.6 L90.7 389.1 L91.1 387.7 L91.5 386.2 L92.0 384.8 L92.4 383.3 L92.8 381.9 L93.3 380.4 L93.7 379.0 L94.1 377.5 L94.6 376.1 L95.0 374.7 L95.5 373.2 L95.9 371.8 L96.3 370.3 L96.8 368.9 L97.2 367.4 L97.6 366.0 L98.1 364.5 L98.5 363.1 L98.9 361.6 L99.4 360.2 L99.8 358.7 L100.2 357.3 L100.7 355.8 L101.1 354.4 L101.5 352.9 L102.0 351.5 L102.4 350.1 L102.8 348.6 L103.3 347.2 L103.7 345.7 L104.2 344.3 L104.6 342.8 L105.0 341.4 L105.5 339.9 L105.9 338.5 L106.3 337.0 L106.8 335.6 L107.2 334.1 L107.6 332.7 L108.1 331.2 L108.5 329.8 L109.0 328.4 L109.4 326.9 L109.8 325.5 L110.3 324.0 L110.7 322.6 L111.2 321.1 L111.6 319.7 L112.0 318.2 L112.5 316.8 L112.9 315.3 L113.4 313.9 L113.8 312.5 L114.2 311.0 L114.7 309.6 L115.1 308.1 L115.6 306.7 L116.0 305.2 L116.5 303.8 L116.9 302.3 L117.3 300.9 L117.8 299.5 L118.2 298.0 L118.7 296.6 L119.1 295.1 L119.6 293.7 L120.0 292.2 L120.5 290.8 L120.9 289.3 L121.4 287.9 L121.8 286.5 L122.3 285.0 L122.7 283.6 L123.2 282.1 L123.6 280.7 L124.1 279.2 L124.5 277.8 L125.0 276.4 L125.4 274.9 L125.9 273.5 L126.3 272.0 L126.8 270.6 L127.3 269.2 L127.7 267.7 L128.2 266.3 L128.6 264.8 L129.1 263.4 L129.6 262.0 L130.0 260.5 L130.5 259.1 L131.0 257.7 L131.4 256.2 L131.9 254.8 L132.4 253.4 L132.9 251.9 L133.3 250.5 L133.8 249.0 L134.3 247.6 L134.8 246.2 L135.2 244.7 L135.7 243.3 L136.2 241.9 L136.7 240.5 L137.2 239.0 L137.7 237.6 L138.2 236.2 L138.7 234.7 L139.2 233.3 L139.7 231.9 L140.2 230.5 L140.7 229.0 L141.2 227.6 L141.7 226.2 L142.2 224.8 L142.7 223.3 L143.2 221.9 L143.7 220.5 L144.2 219.1 L144.7 217.7 L145.3 216.2 L145.8 214.8 L146.3 213.4 L146.8 212.0 L147.4 210.6 L147.9 209.2 L148.4 207.8 L149.0 206.3 L149.5 204.9 L150.0 203.5 L150.6 202.1 L151.1 200.7 L151.6 199.3 L152.2 197.9 L152.7 196.5 L153.3 195.0 L153.8 193.6 L154.4 192.2 L154.9 190.8 L155.5 189.4 L156.0 188.0 L156.6 186.6 L157.1 185.2 L157.7 183.8 L158.3 182.4 L158.9 181.0 L159.5 179.6 L160.1 178.2 L160.7 176.9 L161.4 175.5 L162.0 174.2 L162.7 172.8 L163.4 171.5 L164.2 170.2 L165.0 168.9 L165.8 167.6 L166.6 166.4 L167.5 165.2 L168.4 163.9 L169.3 162.7 L170.3 161.5 L171.3 160.4 L172.3 159.2 L173.2 158.0 L174.2 156.9 L175.3 155.7 L176.3 154.6 L177.3 153.5 L178.4 152.5 L179.6 151.5 L180.8 150.7 L182.1 149.9 L183.4 149.2 L184.8 148.6 L186.2 148.1 L187.6 147.6 L189.1 147.2 L190.6 146.8 L192.1 146.5 L193.6 146.3 L195.1 146.1 L196.6 146.0 L198.1 145.9 L199.6 145.9 L201.1 145.9 L202.6 145.9 L204.2 146.0 L205.7 146.1 L207.2 146.2 L208.7 146.4 L210.2 146.5 L211.6 146.7 L213.1 146.9 L214.6 147.1 L216.1 147.2 L217.6 147.4 L219.1 147.6 L220.6 147.8 L222.1 148.0 L223.5 148.3 L225.0 148.6 L226.5 148.9 L228.0 149.3 L229.5 149.6 L230.9 150.0 L232.4 150.3 L233.9 150.7 L235.3 151.1 L236.8 151.4 L238.2 151.8 L239.7 152.2 L241.2 152.6 L242.6 153.0 L244.1 153.3 L245.5 153.7 L247.0 154.1 L600.5 281.5" fill="none" stroke="#ff0000" stroke-width="4.2" stroke-linejoin="round" stroke-linecap="butt"/>
<g font-family="'Liberation Serif', serif" font-size="37" fill="#000"><text x="69.5" y="503.6" text-anchor="middle">0</text><text x="170.85" y="503.6" text-anchor="middle">1</text><text x="272.2" y="503.6" text-anchor="middle">2</text><text x="373.55" y="503.6" text-anchor="middle">3</text><text x="474.9" y="503.6" text-anchor="middle">4</text><text x="576.25" y="503.6" text-anchor="middle">5</text><text x="677.6" y="503.6" text-anchor="middle">6</text><text x="57" y="471.3" text-anchor="end">0</text><text x="57" y="396.95" text-anchor="end">1</text><text x="57" y="322.6" text-anchor="end">2</text><text x="57" y="248.25" text-anchor="end">3</text><text x="57" y="173.9" text-anchor="end">4</text><text x="57" y="99.55" text-anchor="end">5</text><text x="57" y="25.2" text-anchor="end">6</text><text x="373.2" y="547.8" text-anchor="middle" font-size="37.6">Displacement (mm)</text><text transform="translate(25.8 236) rotate(-90)" text-anchor="middle" font-size="37.35">Pull-out strength (kN)</text></g>
<rect x="380.5" y="12.5" width="297.3" height="89" fill="#fff" stroke="#1f1f1f" stroke-width="1.4"/>
<path d="M386 35.6H442" stroke="#a3a3a3" stroke-width="2.1"/>
<path d="M386 78.4H442" stroke="#ff0000" stroke-width="4.2"/>
<g font-family="'Liberation Serif', serif" font-size="37.3" fill="#000"><text x="446.2" y="47.9">Specimen <tspan font-style="italic">i</tspan></text><text x="446.2" y="91.1">Q-pinch model</text></g>
</svg>
</body></html>
